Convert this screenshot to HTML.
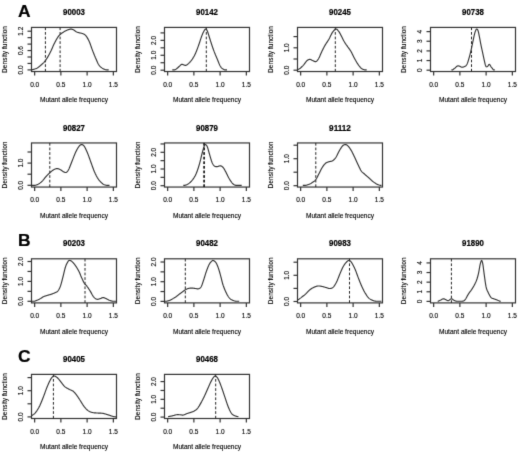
<!DOCTYPE html><html><head><meta charset="utf-8"><style>html,body{margin:0;padding:0;background:#fff;}svg{display:block;} text{stroke:#000;stroke-width:0.12px;} text.b{stroke-width:0.2px;}</style></head><body>
<svg width="520" height="453" viewBox="0 0 520 453" font-family='&quot;Liberation Sans&quot;, sans-serif'>
<defs><filter id="bl" x="0" y="0" width="520" height="453" filterUnits="userSpaceOnUse" color-interpolation-filters="sRGB"><feColorMatrix type="saturate" values="0"/><feConvolveMatrix order="3" kernelMatrix="0.0113 0.0838 0.0113 0.0838 0.6193 0.0838 0.0113 0.0838 0.0113" edgeMode="duplicate" preserveAlpha="true"/></filter></defs>
<rect width="520" height="453" fill="#fff"/>
<g filter="url(#bl)"><rect width="520" height="453" fill="#fff"/>
<text x="18.1" y="17.0" class="b" font-size="17.4" font-weight="bold" fill="#000">A</text>
<text x="18.1" y="245.9" class="b" font-size="17.4" font-weight="bold" fill="#000">B</text>
<text x="18.1" y="361.6" class="b" font-size="17.4" font-weight="bold" fill="#000">C</text>
<g><text x="74.00" y="15.03" font-size="8.3" class="b" font-weight="bold" text-anchor="middle" textLength="21.8" lengthAdjust="spacingAndGlyphs" fill="#000">90003</text><rect x="31.50" y="27.43" width="85.00" height="44.10" fill="none" stroke="#333" stroke-width="1.2"/><line x1="34.65" y1="71.53" x2="34.65" y2="75.53" stroke="#333" stroke-width="1.2"/><text x="34.65" y="86.83" font-size="6.5" text-anchor="middle" fill="#000">0.0</text><line x1="60.88" y1="71.53" x2="60.88" y2="75.53" stroke="#333" stroke-width="1.2"/><text x="60.88" y="86.83" font-size="6.5" text-anchor="middle" fill="#000">0.5</text><line x1="87.12" y1="71.53" x2="87.12" y2="75.53" stroke="#333" stroke-width="1.2"/><text x="87.12" y="86.83" font-size="6.5" text-anchor="middle" fill="#000">1.0</text><line x1="113.35" y1="71.53" x2="113.35" y2="75.53" stroke="#333" stroke-width="1.2"/><text x="113.35" y="86.83" font-size="6.5" text-anchor="middle" fill="#000">1.5</text><text x="74.00" y="102.23" font-size="6.6" text-anchor="middle" fill="#000">Mutant allele frequency</text><line x1="27.50" y1="69.90" x2="31.50" y2="69.90" stroke="#333" stroke-width="1.2"/><text transform="translate(22.80,69.90) rotate(-90)" font-size="6.5" text-anchor="middle" fill="#000">0.0</text><line x1="27.50" y1="63.45" x2="31.50" y2="63.45" stroke="#333" stroke-width="1.2"/><line x1="27.50" y1="57.00" x2="31.50" y2="57.00" stroke="#333" stroke-width="1.2"/><line x1="27.50" y1="50.55" x2="31.50" y2="50.55" stroke="#333" stroke-width="1.2"/><text transform="translate(22.80,50.55) rotate(-90)" font-size="6.5" text-anchor="middle" fill="#000">0.6</text><line x1="27.50" y1="44.10" x2="31.50" y2="44.10" stroke="#333" stroke-width="1.2"/><line x1="27.50" y1="37.65" x2="31.50" y2="37.65" stroke="#333" stroke-width="1.2"/><line x1="27.50" y1="31.20" x2="31.50" y2="31.20" stroke="#333" stroke-width="1.2"/><text transform="translate(22.80,31.20) rotate(-90)" font-size="6.5" text-anchor="middle" fill="#000">1.2</text><text transform="translate(7.00,49.48) rotate(-90)" font-size="6.6" text-anchor="middle" fill="#000">Density function</text><line x1="45.40" y1="71.53" x2="45.40" y2="27.43" stroke="#222" stroke-width="1" stroke-dasharray="2.7 1.9"/><line x1="60.10" y1="71.53" x2="60.10" y2="27.43" stroke="#222" stroke-width="1" stroke-dasharray="2.7 1.9"/><path d="M31.70,69.80 L31.95,69.73 L32.26,69.66 L32.62,69.57 L33.03,69.48 L33.47,69.37 L33.94,69.25 L34.42,69.12 L34.92,68.97 L35.41,68.81 L35.90,68.63 L36.36,68.44 L36.80,68.22 L37.22,67.98 L37.65,67.71 L38.09,67.42 L38.52,67.11 L38.95,66.79 L39.38,66.45 L39.81,66.10 L40.23,65.75 L40.64,65.40 L41.04,65.05 L41.43,64.70 L41.80,64.37 L42.16,64.05 L42.49,63.75 L42.81,63.46 L43.12,63.18 L43.42,62.90 L43.72,62.60 L44.01,62.30 L44.31,61.97 L44.61,61.61 L44.93,61.23 L45.26,60.80 L45.60,60.32 L45.96,59.80 L46.34,59.23 L46.72,58.63 L47.12,57.99 L47.52,57.33 L47.93,56.64 L48.33,55.94 L48.74,55.22 L49.14,54.50 L49.54,53.77 L49.92,53.04 L50.30,52.32 L50.67,51.59 L51.03,50.84 L51.38,50.06 L51.73,49.27 L52.08,48.48 L52.42,47.68 L52.77,46.88 L53.11,46.10 L53.45,45.32 L53.80,44.57 L54.15,43.84 L54.50,43.14 L54.85,42.46 L55.20,41.78 L55.55,41.12 L55.90,40.47 L56.25,39.83 L56.60,39.21 L56.95,38.61 L57.31,38.02 L57.67,37.46 L58.04,36.92 L58.42,36.41 L58.80,35.93 L59.19,35.47 L59.58,35.05 L59.98,34.66 L60.38,34.29 L60.78,33.95 L61.19,33.62 L61.61,33.31 L62.03,33.01 L62.46,32.72 L62.90,32.44 L63.35,32.16 L63.80,31.88 L64.27,31.60 L64.77,31.32 L65.29,31.04 L65.82,30.77 L66.36,30.51 L66.90,30.26 L67.43,30.03 L67.96,29.81 L68.46,29.62 L68.94,29.46 L69.39,29.32 L69.80,29.21 L70.17,29.13 L70.51,29.09 L70.81,29.06 L71.10,29.06 L71.36,29.09 L71.61,29.13 L71.86,29.19 L72.10,29.27 L72.35,29.36 L72.62,29.47 L72.90,29.58 L73.20,29.70 L73.52,29.85 L73.84,30.03 L74.17,30.23 L74.51,30.45 L74.85,30.69 L75.19,30.94 L75.55,31.19 L75.90,31.43 L76.27,31.67 L76.64,31.89 L77.02,32.10 L77.40,32.27 L77.80,32.42 L78.22,32.55 L78.65,32.66 L79.10,32.77 L79.55,32.86 L80.01,32.95 L80.46,33.03 L80.90,33.12 L81.33,33.21 L81.74,33.31 L82.14,33.43 L82.50,33.56 L82.84,33.69 L83.15,33.81 L83.45,33.93 L83.73,34.05 L84.00,34.17 L84.26,34.31 L84.51,34.46 L84.76,34.63 L85.01,34.83 L85.27,35.06 L85.53,35.32 L85.80,35.63 L86.08,35.97 L86.36,36.35 L86.64,36.74 L86.93,37.17 L87.21,37.62 L87.49,38.10 L87.78,38.60 L88.06,39.13 L88.35,39.68 L88.63,40.25 L88.92,40.84 L89.20,41.46 L89.48,42.11 L89.77,42.80 L90.05,43.54 L90.33,44.30 L90.62,45.09 L90.90,45.90 L91.18,46.71 L91.47,47.52 L91.75,48.33 L92.03,49.12 L92.32,49.90 L92.60,50.64 L92.88,51.37 L93.17,52.09 L93.45,52.82 L93.73,53.53 L94.02,54.24 L94.30,54.94 L94.58,55.64 L94.87,56.32 L95.15,57.00 L95.43,57.66 L95.72,58.30 L96.00,58.94 L96.28,59.56 L96.55,60.18 L96.81,60.80 L97.07,61.41 L97.33,62.00 L97.59,62.59 L97.86,63.15 L98.14,63.70 L98.43,64.23 L98.73,64.73 L99.06,65.21 L99.40,65.65 L99.77,66.07 L100.16,66.47 L100.58,66.85 L101.01,67.21 L101.45,67.54 L101.90,67.86 L102.35,68.15 L102.80,68.42 L103.25,68.67 L103.68,68.91 L104.10,69.12 L104.50,69.31 L104.89,69.47 L105.30,69.60 L105.71,69.70 L106.12,69.78 L106.53,69.84 L106.92,69.88 L107.29,69.90 L107.64,69.90 L107.97,69.90 L108.25,69.90 L108.50,69.90 L108.70,69.90" fill="none" stroke="#333" stroke-width="1.15" stroke-linejoin="round"/></g>
<g><text x="207.00" y="15.03" font-size="8.3" class="b" font-weight="bold" text-anchor="middle" textLength="21.8" lengthAdjust="spacingAndGlyphs" fill="#000">90142</text><rect x="164.50" y="27.43" width="85.00" height="44.10" fill="none" stroke="#333" stroke-width="1.2"/><line x1="167.65" y1="71.53" x2="167.65" y2="75.53" stroke="#333" stroke-width="1.2"/><text x="167.65" y="86.83" font-size="6.5" text-anchor="middle" fill="#000">0.0</text><line x1="193.88" y1="71.53" x2="193.88" y2="75.53" stroke="#333" stroke-width="1.2"/><text x="193.88" y="86.83" font-size="6.5" text-anchor="middle" fill="#000">0.5</text><line x1="220.12" y1="71.53" x2="220.12" y2="75.53" stroke="#333" stroke-width="1.2"/><text x="220.12" y="86.83" font-size="6.5" text-anchor="middle" fill="#000">1.0</text><line x1="246.35" y1="71.53" x2="246.35" y2="75.53" stroke="#333" stroke-width="1.2"/><text x="246.35" y="86.83" font-size="6.5" text-anchor="middle" fill="#000">1.5</text><text x="207.00" y="102.23" font-size="6.6" text-anchor="middle" fill="#000">Mutant allele frequency</text><line x1="160.50" y1="70.20" x2="164.50" y2="70.20" stroke="#333" stroke-width="1.2"/><text transform="translate(155.80,70.20) rotate(-90)" font-size="6.5" text-anchor="middle" fill="#000">0.0</text><line x1="160.50" y1="62.74" x2="164.50" y2="62.74" stroke="#333" stroke-width="1.2"/><line x1="160.50" y1="55.28" x2="164.50" y2="55.28" stroke="#333" stroke-width="1.2"/><text transform="translate(155.80,55.28) rotate(-90)" font-size="6.5" text-anchor="middle" fill="#000">1.0</text><line x1="160.50" y1="47.82" x2="164.50" y2="47.82" stroke="#333" stroke-width="1.2"/><line x1="160.50" y1="40.36" x2="164.50" y2="40.36" stroke="#333" stroke-width="1.2"/><text transform="translate(155.80,40.36) rotate(-90)" font-size="6.5" text-anchor="middle" fill="#000">2.0</text><line x1="160.50" y1="32.90" x2="164.50" y2="32.90" stroke="#333" stroke-width="1.2"/><text transform="translate(140.00,49.48) rotate(-90)" font-size="6.6" text-anchor="middle" fill="#000">Density function</text><line x1="206.30" y1="71.53" x2="206.30" y2="27.43" stroke="#222" stroke-width="1" stroke-dasharray="2.7 1.9"/><path d="M172.30,69.90 L172.46,69.90 L172.67,69.90 L172.91,69.90 L173.18,69.90 L173.48,69.90 L173.79,69.90 L174.11,69.90 L174.44,69.83 L174.77,69.72 L175.09,69.60 L175.41,69.46 L175.70,69.31 L175.99,69.13 L176.28,68.94 L176.57,68.72 L176.87,68.49 L177.16,68.24 L177.46,67.99 L177.75,67.74 L178.03,67.48 L178.31,67.23 L178.59,66.99 L178.85,66.76 L179.10,66.54 L179.34,66.33 L179.57,66.11 L179.80,65.89 L180.02,65.67 L180.23,65.46 L180.44,65.25 L180.64,65.06 L180.84,64.87 L181.03,64.71 L181.22,64.57 L181.41,64.45 L181.60,64.37 L181.78,64.32 L181.96,64.30 L182.13,64.30 L182.30,64.34 L182.46,64.39 L182.62,64.45 L182.78,64.52 L182.94,64.60 L183.10,64.68 L183.26,64.75 L183.43,64.81 L183.60,64.86 L183.78,64.91 L183.95,64.97 L184.13,65.04 L184.30,65.11 L184.48,65.18 L184.66,65.25 L184.84,65.30 L185.03,65.35 L185.22,65.39 L185.41,65.40 L185.60,65.39 L185.80,65.36 L186.00,65.30 L186.20,65.23 L186.40,65.14 L186.61,65.04 L186.81,64.92 L187.03,64.79 L187.24,64.64 L187.46,64.48 L187.68,64.30 L187.92,64.11 L188.15,63.90 L188.40,63.68 L188.66,63.44 L188.92,63.18 L189.19,62.91 L189.47,62.63 L189.76,62.33 L190.05,62.01 L190.34,61.68 L190.64,61.34 L190.93,60.98 L191.22,60.61 L191.51,60.22 L191.80,59.83 L192.08,59.42 L192.37,59.00 L192.65,58.57 L192.94,58.12 L193.22,57.67 L193.51,57.20 L193.79,56.71 L194.07,56.20 L194.36,55.68 L194.64,55.14 L194.92,54.58 L195.20,54.00 L195.48,53.39 L195.75,52.77 L196.03,52.12 L196.30,51.45 L196.58,50.76 L196.85,50.06 L197.12,49.34 L197.40,48.61 L197.67,47.87 L197.95,47.12 L198.22,46.36 L198.50,45.60 L198.78,44.81 L199.07,43.98 L199.36,43.11 L199.66,42.23 L199.95,41.33 L200.24,40.43 L200.53,39.54 L200.82,38.67 L201.10,37.84 L201.38,37.04 L201.64,36.30 L201.90,35.63 L202.15,35.00 L202.39,34.41 L202.63,33.84 L202.86,33.31 L203.09,32.81 L203.31,32.35 L203.52,31.91 L203.73,31.51 L203.93,31.13 L204.13,30.79 L204.32,30.48 L204.50,30.19 L204.67,29.94 L204.84,29.72 L204.99,29.54 L205.14,29.38 L205.28,29.26 L205.41,29.17 L205.54,29.10 L205.67,29.07 L205.80,29.06 L205.93,29.08 L206.06,29.13 L206.20,29.21 L206.33,29.30 L206.46,29.42 L206.58,29.56 L206.70,29.73 L206.82,29.93 L206.94,30.16 L207.07,30.42 L207.20,30.71 L207.33,31.04 L207.48,31.41 L207.63,31.82 L207.80,32.27 L207.98,32.77 L208.17,33.33 L208.36,33.93 L208.56,34.58 L208.77,35.26 L208.99,35.98 L209.21,36.72 L209.44,37.47 L209.67,38.24 L209.91,39.02 L210.15,39.79 L210.40,40.56 L210.66,41.35 L210.92,42.16 L211.19,43.00 L211.47,43.86 L211.76,44.73 L212.05,45.60 L212.34,46.48 L212.64,47.35 L212.93,48.20 L213.22,49.04 L213.51,49.86 L213.80,50.64 L214.08,51.40 L214.37,52.13 L214.65,52.85 L214.94,53.56 L215.22,54.26 L215.51,54.94 L215.79,55.62 L216.07,56.29 L216.36,56.95 L216.64,57.61 L216.92,58.27 L217.20,58.94 L217.48,59.61 L217.75,60.30 L218.03,60.99 L218.30,61.69 L218.58,62.39 L218.85,63.07 L219.12,63.74 L219.40,64.38 L219.67,64.98 L219.95,65.55 L220.22,66.07 L220.50,66.54 L220.78,66.96 L221.06,67.33 L221.35,67.66 L221.64,67.95 L221.92,68.21 L222.21,68.44 L222.50,68.65 L222.79,68.84 L223.07,69.02 L223.35,69.18 L223.63,69.35 L223.90,69.50 L224.18,69.65 L224.47,69.78 L224.77,69.89 L225.07,69.90 L225.37,69.90 L225.66,69.90 L225.94,69.90 L226.21,69.90 L226.45,69.90 L226.67,69.90 L226.85,69.90 L227.00,69.90" fill="none" stroke="#333" stroke-width="1.15" stroke-linejoin="round"/></g>
<g><text x="340.00" y="15.03" font-size="8.3" class="b" font-weight="bold" text-anchor="middle" textLength="21.8" lengthAdjust="spacingAndGlyphs" fill="#000">90245</text><rect x="297.50" y="27.43" width="85.00" height="44.10" fill="none" stroke="#333" stroke-width="1.2"/><line x1="300.65" y1="71.53" x2="300.65" y2="75.53" stroke="#333" stroke-width="1.2"/><text x="300.65" y="86.83" font-size="6.5" text-anchor="middle" fill="#000">0.0</text><line x1="326.88" y1="71.53" x2="326.88" y2="75.53" stroke="#333" stroke-width="1.2"/><text x="326.88" y="86.83" font-size="6.5" text-anchor="middle" fill="#000">0.5</text><line x1="353.12" y1="71.53" x2="353.12" y2="75.53" stroke="#333" stroke-width="1.2"/><text x="353.12" y="86.83" font-size="6.5" text-anchor="middle" fill="#000">1.0</text><line x1="379.35" y1="71.53" x2="379.35" y2="75.53" stroke="#333" stroke-width="1.2"/><text x="379.35" y="86.83" font-size="6.5" text-anchor="middle" fill="#000">1.5</text><text x="340.00" y="102.23" font-size="6.6" text-anchor="middle" fill="#000">Mutant allele frequency</text><line x1="293.50" y1="70.20" x2="297.50" y2="70.20" stroke="#333" stroke-width="1.2"/><text transform="translate(288.80,70.20) rotate(-90)" font-size="6.5" text-anchor="middle" fill="#000">0.0</text><line x1="293.50" y1="59.00" x2="297.50" y2="59.00" stroke="#333" stroke-width="1.2"/><line x1="293.50" y1="47.80" x2="297.50" y2="47.80" stroke="#333" stroke-width="1.2"/><text transform="translate(288.80,47.80) rotate(-90)" font-size="6.5" text-anchor="middle" fill="#000">1.0</text><line x1="293.50" y1="36.60" x2="297.50" y2="36.60" stroke="#333" stroke-width="1.2"/><text transform="translate(273.00,49.48) rotate(-90)" font-size="6.6" text-anchor="middle" fill="#000">Density function</text><line x1="335.30" y1="71.53" x2="335.30" y2="27.43" stroke="#222" stroke-width="1" stroke-dasharray="2.7 1.9"/><path d="M297.40,69.80 L297.53,69.73 L297.70,69.65 L297.89,69.56 L298.10,69.46 L298.34,69.35 L298.59,69.22 L298.85,69.09 L299.12,68.94 L299.39,68.78 L299.67,68.61 L299.94,68.43 L300.20,68.23 L300.46,68.02 L300.73,67.78 L301.01,67.54 L301.29,67.28 L301.57,67.01 L301.86,66.72 L302.15,66.43 L302.44,66.13 L302.74,65.83 L303.03,65.52 L303.31,65.20 L303.60,64.89 L303.88,64.56 L304.17,64.20 L304.46,63.82 L304.75,63.43 L305.04,63.04 L305.33,62.64 L305.62,62.26 L305.90,61.88 L306.19,61.53 L306.46,61.20 L306.73,60.91 L307.00,60.66 L307.26,60.44 L307.51,60.25 L307.76,60.07 L308.00,59.92 L308.24,59.79 L308.48,59.68 L308.71,59.58 L308.94,59.51 L309.18,59.45 L309.42,59.41 L309.66,59.39 L309.90,59.38 L310.15,59.40 L310.39,59.45 L310.64,59.53 L310.89,59.63 L311.14,59.75 L311.39,59.89 L311.64,60.03 L311.89,60.17 L312.14,60.31 L312.39,60.44 L312.65,60.56 L312.90,60.66 L313.16,60.76 L313.41,60.88 L313.67,61.01 L313.94,61.14 L314.20,61.27 L314.46,61.39 L314.72,61.50 L314.99,61.58 L315.24,61.63 L315.50,61.65 L315.75,61.62 L316.00,61.54 L316.24,61.42 L316.49,61.26 L316.73,61.06 L316.96,60.83 L317.20,60.58 L317.43,60.29 L317.66,59.98 L317.89,59.66 L318.12,59.31 L318.35,58.95 L318.57,58.58 L318.80,58.20 L319.02,57.81 L319.24,57.39 L319.45,56.95 L319.65,56.48 L319.86,56.01 L320.06,55.51 L320.27,55.01 L320.48,54.49 L320.70,53.97 L320.92,53.45 L321.16,52.93 L321.40,52.40 L321.65,51.88 L321.91,51.34 L322.17,50.79 L322.44,50.24 L322.72,49.68 L323.00,49.12 L323.29,48.55 L323.58,47.98 L323.88,47.41 L324.18,46.84 L324.49,46.28 L324.80,45.72 L325.12,45.16 L325.46,44.60 L325.81,44.05 L326.17,43.49 L326.53,42.93 L326.90,42.37 L327.27,41.81 L327.63,41.26 L327.99,40.70 L328.34,40.14 L328.68,39.59 L329.00,39.04 L329.31,38.47 L329.61,37.89 L329.91,37.31 L330.19,36.71 L330.47,36.12 L330.75,35.53 L331.02,34.96 L331.30,34.40 L331.57,33.87 L331.84,33.36 L332.12,32.88 L332.40,32.45 L332.69,32.04 L332.98,31.65 L333.27,31.27 L333.57,30.91 L333.86,30.57 L334.16,30.26 L334.45,29.98 L334.73,29.73 L335.01,29.51 L335.29,29.34 L335.55,29.20 L335.80,29.11 L336.04,29.06 L336.27,29.07 L336.49,29.12 L336.70,29.20 L336.91,29.32 L337.11,29.48 L337.30,29.65 L337.50,29.85 L337.70,30.07 L337.89,30.30 L338.09,30.54 L338.30,30.78 L338.51,31.03 L338.71,31.29 L338.90,31.58 L339.10,31.88 L339.30,32.19 L339.49,32.53 L339.69,32.88 L339.90,33.25 L340.11,33.64 L340.33,34.04 L340.56,34.47 L340.80,34.91 L341.05,35.38 L341.31,35.89 L341.59,36.44 L341.87,37.01 L342.15,37.60 L342.44,38.19 L342.74,38.79 L343.03,39.39 L343.33,39.98 L343.62,40.54 L343.91,41.08 L344.20,41.59 L344.48,42.07 L344.77,42.52 L345.05,42.96 L345.33,43.39 L345.62,43.80 L345.90,44.21 L346.18,44.61 L346.47,45.00 L346.75,45.40 L347.03,45.79 L347.32,46.19 L347.60,46.60 L347.88,47.01 L348.17,47.41 L348.45,47.80 L348.73,48.18 L349.02,48.57 L349.30,48.96 L349.58,49.35 L349.87,49.75 L350.15,50.17 L350.43,50.60 L350.72,51.05 L351.00,51.52 L351.28,52.02 L351.57,52.54 L351.85,53.09 L352.13,53.65 L352.42,54.22 L352.70,54.81 L352.98,55.39 L353.27,55.97 L353.55,56.55 L353.83,57.12 L354.12,57.67 L354.40,58.20 L354.68,58.72 L354.97,59.24 L355.25,59.75 L355.53,60.26 L355.82,60.76 L356.10,61.26 L356.38,61.74 L356.67,62.22 L356.95,62.68 L357.23,63.14 L357.52,63.58 L357.80,64.00 L358.08,64.42 L358.37,64.83 L358.65,65.23 L358.94,65.63 L359.22,66.01 L359.51,66.38 L359.79,66.74 L360.07,67.07 L360.36,67.40 L360.64,67.70 L360.92,67.97 L361.20,68.23 L361.48,68.46 L361.77,68.66 L362.06,68.83 L362.35,68.99 L362.64,69.12 L362.93,69.24 L363.21,69.35 L363.49,69.45 L363.75,69.54 L364.01,69.63 L364.26,69.71 L364.50,69.80 L364.73,69.89 L364.96,69.90 L365.18,69.90 L365.40,69.90 L365.61,69.90 L365.81,69.90 L365.99,69.90 L366.17,69.90 L366.33,69.90 L366.47,69.90 L366.60,69.90 L366.70,69.90" fill="none" stroke="#333" stroke-width="1.15" stroke-linejoin="round"/></g>
<g><text x="473.00" y="15.03" font-size="8.3" class="b" font-weight="bold" text-anchor="middle" textLength="21.8" lengthAdjust="spacingAndGlyphs" fill="#000">90738</text><rect x="430.50" y="27.43" width="85.00" height="44.10" fill="none" stroke="#333" stroke-width="1.2"/><line x1="433.65" y1="71.53" x2="433.65" y2="75.53" stroke="#333" stroke-width="1.2"/><text x="433.65" y="86.83" font-size="6.5" text-anchor="middle" fill="#000">0.0</text><line x1="459.88" y1="71.53" x2="459.88" y2="75.53" stroke="#333" stroke-width="1.2"/><text x="459.88" y="86.83" font-size="6.5" text-anchor="middle" fill="#000">0.5</text><line x1="486.12" y1="71.53" x2="486.12" y2="75.53" stroke="#333" stroke-width="1.2"/><text x="486.12" y="86.83" font-size="6.5" text-anchor="middle" fill="#000">1.0</text><line x1="512.35" y1="71.53" x2="512.35" y2="75.53" stroke="#333" stroke-width="1.2"/><text x="512.35" y="86.83" font-size="6.5" text-anchor="middle" fill="#000">1.5</text><text x="473.00" y="102.23" font-size="6.6" text-anchor="middle" fill="#000">Mutant allele frequency</text><line x1="426.50" y1="70.20" x2="430.50" y2="70.20" stroke="#333" stroke-width="1.2"/><text transform="translate(421.80,70.20) rotate(-90)" font-size="6.5" text-anchor="middle" fill="#000">0</text><line x1="426.50" y1="60.55" x2="430.50" y2="60.55" stroke="#333" stroke-width="1.2"/><text transform="translate(421.80,60.55) rotate(-90)" font-size="6.5" text-anchor="middle" fill="#000">1</text><line x1="426.50" y1="50.90" x2="430.50" y2="50.90" stroke="#333" stroke-width="1.2"/><text transform="translate(421.80,50.90) rotate(-90)" font-size="6.5" text-anchor="middle" fill="#000">2</text><line x1="426.50" y1="41.25" x2="430.50" y2="41.25" stroke="#333" stroke-width="1.2"/><text transform="translate(421.80,41.25) rotate(-90)" font-size="6.5" text-anchor="middle" fill="#000">3</text><line x1="426.50" y1="31.60" x2="430.50" y2="31.60" stroke="#333" stroke-width="1.2"/><text transform="translate(421.80,31.60) rotate(-90)" font-size="6.5" text-anchor="middle" fill="#000">4</text><text transform="translate(406.00,49.48) rotate(-90)" font-size="6.6" text-anchor="middle" fill="#000">Density function</text><line x1="471.50" y1="71.53" x2="471.50" y2="27.43" stroke="#222" stroke-width="1" stroke-dasharray="2.7 1.9"/><path d="M451.40,69.90 L451.55,69.90 L451.74,69.90 L451.97,69.90 L452.22,69.90 L452.49,69.90 L452.78,69.74 L453.08,69.52 L453.38,69.28 L453.68,69.05 L453.97,68.82 L454.25,68.61 L454.50,68.40 L454.74,68.20 L454.98,67.99 L455.22,67.77 L455.45,67.54 L455.68,67.32 L455.91,67.10 L456.14,66.90 L456.36,66.70 L456.58,66.52 L456.79,66.36 L457.00,66.22 L457.20,66.11 L457.39,66.02 L457.58,65.96 L457.76,65.92 L457.93,65.90 L458.09,65.89 L458.26,65.89 L458.42,65.91 L458.59,65.94 L458.75,65.98 L458.93,66.02 L459.11,66.06 L459.30,66.11 L459.50,66.17 L459.70,66.25 L459.91,66.35 L460.13,66.46 L460.34,66.58 L460.56,66.70 L460.78,66.82 L461.01,66.93 L461.23,67.03 L461.46,67.11 L461.68,67.17 L461.90,67.20 L462.12,67.21 L462.35,67.21 L462.58,67.18 L462.81,67.15 L463.05,67.10 L463.28,67.04 L463.51,66.97 L463.74,66.89 L463.96,66.80 L464.18,66.71 L464.40,66.61 L464.60,66.51 L464.80,66.41 L464.98,66.32 L465.17,66.23 L465.34,66.14 L465.52,66.04 L465.69,65.93 L465.86,65.80 L466.02,65.64 L466.19,65.46 L466.36,65.25 L466.53,65.00 L466.70,64.71 L466.87,64.38 L467.05,64.01 L467.22,63.61 L467.40,63.17 L467.57,62.72 L467.74,62.23 L467.92,61.73 L468.09,61.20 L468.27,60.65 L468.44,60.09 L468.62,59.51 L468.80,58.92 L468.98,58.31 L469.17,57.66 L469.35,56.99 L469.54,56.29 L469.73,55.57 L469.92,54.84 L470.11,54.10 L470.29,53.36 L470.48,52.61 L470.66,51.87 L470.83,51.15 L471.00,50.43 L471.16,49.73 L471.33,49.02 L471.48,48.31 L471.64,47.60 L471.79,46.89 L471.94,46.18 L472.08,45.47 L472.23,44.77 L472.37,44.08 L472.52,43.39 L472.66,42.72 L472.80,42.05 L472.94,41.38 L473.08,40.71 L473.22,40.04 L473.36,39.37 L473.50,38.70 L473.63,38.04 L473.76,37.40 L473.90,36.78 L474.03,36.18 L474.15,35.61 L474.28,35.07 L474.40,34.56 L474.52,34.09 L474.64,33.64 L474.75,33.22 L474.86,32.81 L474.97,32.44 L475.08,32.08 L475.19,31.75 L475.29,31.43 L475.40,31.14 L475.50,30.86 L475.60,30.61 L475.70,30.37 L475.80,30.15 L475.89,29.95 L475.98,29.77 L476.07,29.61 L476.16,29.47 L476.25,29.35 L476.34,29.25 L476.43,29.17 L476.52,29.11 L476.61,29.08 L476.70,29.06 L476.80,29.07 L476.90,29.10 L477.01,29.15 L477.11,29.21 L477.22,29.29 L477.33,29.39 L477.44,29.52 L477.55,29.67 L477.66,29.85 L477.77,30.06 L477.88,30.30 L477.99,30.57 L478.10,30.87 L478.21,31.21 L478.31,31.59 L478.42,32.00 L478.52,32.44 L478.63,32.91 L478.73,33.40 L478.84,33.92 L478.94,34.46 L479.05,35.02 L479.17,35.59 L479.28,36.17 L479.40,36.76 L479.52,37.37 L479.65,38.02 L479.78,38.70 L479.91,39.41 L480.05,40.13 L480.18,40.86 L480.32,41.59 L480.46,42.33 L480.59,43.06 L480.73,43.78 L480.87,44.47 L481.00,45.14 L481.13,45.79 L481.27,46.43 L481.40,47.06 L481.53,47.68 L481.67,48.29 L481.80,48.89 L481.93,49.50 L482.07,50.10 L482.20,50.70 L482.33,51.31 L482.47,51.92 L482.60,52.53 L482.73,53.16 L482.87,53.79 L483.00,54.43 L483.13,55.07 L483.27,55.71 L483.40,56.36 L483.53,56.99 L483.67,57.62 L483.80,58.24 L483.93,58.85 L484.07,59.44 L484.20,60.02 L484.33,60.59 L484.47,61.18 L484.60,61.77 L484.73,62.36 L484.87,62.94 L485.00,63.51 L485.13,64.04 L485.27,64.55 L485.40,65.02 L485.53,65.44 L485.67,65.80 L485.80,66.11 L485.93,66.35 L486.06,66.53 L486.19,66.67 L486.32,66.75 L486.45,66.80 L486.58,66.82 L486.71,66.80 L486.84,66.77 L486.98,66.72 L487.12,66.65 L487.26,66.58 L487.40,66.51 L487.55,66.40 L487.70,66.25 L487.86,66.05 L488.01,65.83 L488.18,65.58 L488.34,65.33 L488.50,65.09 L488.66,64.87 L488.83,64.68 L488.99,64.53 L489.14,64.44 L489.30,64.41 L489.45,64.45 L489.60,64.55 L489.75,64.69 L489.90,64.86 L490.04,65.07 L490.19,65.31 L490.33,65.56 L490.48,65.82 L490.63,66.08 L490.78,66.34 L490.94,66.58 L491.10,66.81 L491.27,67.02 L491.44,67.25 L491.62,67.49 L491.80,67.73 L491.98,67.98 L492.16,68.22 L492.35,68.46 L492.53,68.69 L492.70,68.92 L492.88,69.13 L493.04,69.32 L493.20,69.50 L493.36,69.66 L493.51,69.81 L493.67,69.90 L493.83,69.90 L493.98,69.90 L494.13,69.90 L494.27,69.90 L494.40,69.90 L494.52,69.90 L494.63,69.90 L494.72,69.90 L494.80,69.90" fill="none" stroke="#333" stroke-width="1.15" stroke-linejoin="round"/></g>
<g><text x="74.00" y="130.55" font-size="8.3" class="b" font-weight="bold" text-anchor="middle" textLength="21.8" lengthAdjust="spacingAndGlyphs" fill="#000">90827</text><rect x="31.50" y="142.95" width="85.00" height="44.10" fill="none" stroke="#333" stroke-width="1.2"/><line x1="34.65" y1="187.05" x2="34.65" y2="191.05" stroke="#333" stroke-width="1.2"/><text x="34.65" y="202.35" font-size="6.5" text-anchor="middle" fill="#000">0.0</text><line x1="60.88" y1="187.05" x2="60.88" y2="191.05" stroke="#333" stroke-width="1.2"/><text x="60.88" y="202.35" font-size="6.5" text-anchor="middle" fill="#000">0.5</text><line x1="87.12" y1="187.05" x2="87.12" y2="191.05" stroke="#333" stroke-width="1.2"/><text x="87.12" y="202.35" font-size="6.5" text-anchor="middle" fill="#000">1.0</text><line x1="113.35" y1="187.05" x2="113.35" y2="191.05" stroke="#333" stroke-width="1.2"/><text x="113.35" y="202.35" font-size="6.5" text-anchor="middle" fill="#000">1.5</text><text x="74.00" y="217.75" font-size="6.6" text-anchor="middle" fill="#000">Mutant allele frequency</text><line x1="27.50" y1="185.30" x2="31.50" y2="185.30" stroke="#333" stroke-width="1.2"/><text transform="translate(22.80,185.30) rotate(-90)" font-size="6.5" text-anchor="middle" fill="#000">0.0</text><line x1="27.50" y1="174.20" x2="31.50" y2="174.20" stroke="#333" stroke-width="1.2"/><line x1="27.50" y1="163.10" x2="31.50" y2="163.10" stroke="#333" stroke-width="1.2"/><text transform="translate(22.80,163.10) rotate(-90)" font-size="6.5" text-anchor="middle" fill="#000">1.0</text><line x1="27.50" y1="152.00" x2="31.50" y2="152.00" stroke="#333" stroke-width="1.2"/><text transform="translate(7.00,165.00) rotate(-90)" font-size="6.6" text-anchor="middle" fill="#000">Density function</text><line x1="49.80" y1="187.05" x2="49.80" y2="142.95" stroke="#222" stroke-width="1" stroke-dasharray="2.7 1.9"/><path d="M31.70,185.42 L31.95,185.42 L32.26,185.42 L32.62,185.42 L33.03,185.42 L33.47,185.42 L33.94,185.42 L34.42,185.39 L34.92,185.31 L35.41,185.22 L35.90,185.10 L36.36,184.97 L36.80,184.81 L37.22,184.62 L37.65,184.42 L38.07,184.20 L38.50,183.96 L38.93,183.70 L39.35,183.43 L39.77,183.15 L40.19,182.85 L40.60,182.53 L41.01,182.21 L41.41,181.88 L41.80,181.54 L42.18,181.17 L42.56,180.79 L42.93,180.38 L43.29,179.95 L43.65,179.51 L44.00,179.07 L44.35,178.62 L44.70,178.17 L45.05,177.73 L45.40,177.29 L45.75,176.88 L46.10,176.48 L46.46,176.10 L46.82,175.72 L47.18,175.34 L47.54,174.97 L47.90,174.61 L48.26,174.25 L48.61,173.90 L48.96,173.56 L49.31,173.23 L49.65,172.91 L49.98,172.61 L50.30,172.32 L50.61,172.05 L50.91,171.79 L51.21,171.54 L51.49,171.30 L51.77,171.07 L52.05,170.85 L52.32,170.64 L52.60,170.44 L52.87,170.26 L53.14,170.08 L53.42,169.91 L53.70,169.75 L53.98,169.59 L54.27,169.44 L54.55,169.30 L54.83,169.16 L55.12,169.03 L55.40,168.92 L55.68,168.81 L55.97,168.73 L56.25,168.66 L56.53,168.60 L56.82,168.57 L57.10,168.56 L57.38,168.57 L57.67,168.61 L57.95,168.67 L58.24,168.74 L58.52,168.83 L58.81,168.94 L59.09,169.06 L59.37,169.19 L59.66,169.32 L59.94,169.46 L60.22,169.61 L60.50,169.75 L60.78,169.90 L61.06,170.07 L61.35,170.26 L61.63,170.47 L61.92,170.68 L62.20,170.89 L62.48,171.09 L62.76,171.30 L63.03,171.48 L63.29,171.66 L63.55,171.80 L63.80,171.93 L64.04,172.03 L64.28,172.14 L64.50,172.24 L64.72,172.33 L64.94,172.41 L65.15,172.47 L65.36,172.51 L65.57,172.54 L65.77,172.53 L65.98,172.50 L66.19,172.43 L66.40,172.32 L66.61,172.19 L66.81,172.04 L67.01,171.86 L67.21,171.67 L67.40,171.44 L67.60,171.19 L67.80,170.91 L68.00,170.59 L68.21,170.24 L68.43,169.85 L68.66,169.42 L68.90,168.95 L69.15,168.43 L69.41,167.84 L69.69,167.20 L69.97,166.52 L70.25,165.80 L70.54,165.06 L70.84,164.30 L71.13,163.53 L71.43,162.76 L71.72,162.00 L72.01,161.25 L72.30,160.53 L72.58,159.82 L72.87,159.10 L73.15,158.37 L73.43,157.63 L73.72,156.89 L74.00,156.16 L74.28,155.44 L74.57,154.73 L74.85,154.04 L75.13,153.37 L75.42,152.72 L75.70,152.11 L75.99,151.52 L76.28,150.94 L76.57,150.37 L76.87,149.82 L77.16,149.28 L77.46,148.77 L77.75,148.28 L78.03,147.81 L78.31,147.38 L78.59,146.97 L78.85,146.60 L79.10,146.27 L79.34,145.97 L79.57,145.71 L79.79,145.47 L80.00,145.27 L80.20,145.10 L80.40,144.95 L80.60,144.84 L80.79,144.74 L80.99,144.67 L81.19,144.62 L81.39,144.59 L81.60,144.58 L81.81,144.59 L82.02,144.61 L82.23,144.65 L82.43,144.71 L82.64,144.79 L82.85,144.90 L83.06,145.04 L83.28,145.21 L83.50,145.41 L83.72,145.66 L83.96,145.94 L84.20,146.27 L84.45,146.64 L84.71,147.07 L84.97,147.54 L85.24,148.05 L85.52,148.59 L85.80,149.17 L86.08,149.77 L86.37,150.39 L86.65,151.03 L86.94,151.68 L87.22,152.34 L87.50,153.00 L87.78,153.69 L88.06,154.40 L88.34,155.13 L88.63,155.89 L88.91,156.67 L89.19,157.46 L89.48,158.25 L89.76,159.05 L90.05,159.86 L90.33,160.65 L90.62,161.44 L90.90,162.22 L91.18,162.99 L91.47,163.78 L91.75,164.58 L92.03,165.38 L92.32,166.18 L92.60,166.98 L92.88,167.77 L93.17,168.54 L93.45,169.30 L93.73,170.04 L94.02,170.75 L94.30,171.43 L94.58,172.09 L94.87,172.73 L95.15,173.35 L95.43,173.96 L95.72,174.54 L96.00,175.12 L96.28,175.67 L96.57,176.20 L96.85,176.72 L97.13,177.22 L97.42,177.70 L97.70,178.17 L97.98,178.61 L98.27,179.03 L98.55,179.43 L98.83,179.81 L99.12,180.17 L99.40,180.51 L99.68,180.85 L99.97,181.16 L100.25,181.47 L100.53,181.76 L100.82,182.05 L101.10,182.33 L101.38,182.60 L101.65,182.86 L101.91,183.10 L102.17,183.34 L102.44,183.56 L102.70,183.77 L102.97,183.97 L103.25,184.16 L103.54,184.34 L103.84,184.50 L104.16,184.66 L104.50,184.81 L104.88,184.94 L105.30,185.06 L105.75,185.16 L106.23,185.25 L106.72,185.33 L107.21,185.41 L107.69,185.42 L108.14,185.42 L108.56,185.42 L108.94,185.42 L109.25,185.42 L109.50,185.42" fill="none" stroke="#333" stroke-width="1.15" stroke-linejoin="round"/></g>
<g><text x="207.00" y="130.55" font-size="8.3" class="b" font-weight="bold" text-anchor="middle" textLength="21.8" lengthAdjust="spacingAndGlyphs" fill="#000">90879</text><rect x="164.50" y="142.95" width="85.00" height="44.10" fill="none" stroke="#333" stroke-width="1.2"/><line x1="167.65" y1="187.05" x2="167.65" y2="191.05" stroke="#333" stroke-width="1.2"/><text x="167.65" y="202.35" font-size="6.5" text-anchor="middle" fill="#000">0.0</text><line x1="193.88" y1="187.05" x2="193.88" y2="191.05" stroke="#333" stroke-width="1.2"/><text x="193.88" y="202.35" font-size="6.5" text-anchor="middle" fill="#000">0.5</text><line x1="220.12" y1="187.05" x2="220.12" y2="191.05" stroke="#333" stroke-width="1.2"/><text x="220.12" y="202.35" font-size="6.5" text-anchor="middle" fill="#000">1.0</text><line x1="246.35" y1="187.05" x2="246.35" y2="191.05" stroke="#333" stroke-width="1.2"/><text x="246.35" y="202.35" font-size="6.5" text-anchor="middle" fill="#000">1.5</text><text x="207.00" y="217.75" font-size="6.6" text-anchor="middle" fill="#000">Mutant allele frequency</text><line x1="160.50" y1="185.70" x2="164.50" y2="185.70" stroke="#333" stroke-width="1.2"/><text transform="translate(155.80,185.70) rotate(-90)" font-size="6.5" text-anchor="middle" fill="#000">0.0</text><line x1="160.50" y1="177.35" x2="164.50" y2="177.35" stroke="#333" stroke-width="1.2"/><line x1="160.50" y1="169.00" x2="164.50" y2="169.00" stroke="#333" stroke-width="1.2"/><text transform="translate(155.80,169.00) rotate(-90)" font-size="6.5" text-anchor="middle" fill="#000">1.0</text><line x1="160.50" y1="160.65" x2="164.50" y2="160.65" stroke="#333" stroke-width="1.2"/><line x1="160.50" y1="152.30" x2="164.50" y2="152.30" stroke="#333" stroke-width="1.2"/><text transform="translate(155.80,152.30) rotate(-90)" font-size="6.5" text-anchor="middle" fill="#000">2.0</text><line x1="160.50" y1="143.95" x2="164.50" y2="143.95" stroke="#333" stroke-width="1.2"/><text transform="translate(140.00,165.00) rotate(-90)" font-size="6.6" text-anchor="middle" fill="#000">Density function</text><line x1="203.70" y1="187.05" x2="203.70" y2="142.95" stroke="#222" stroke-width="1" stroke-dasharray="2.7 1.9"/><line x1="204.50" y1="187.05" x2="204.50" y2="142.95" stroke="#222" stroke-width="1" stroke-dasharray="2.7 1.9"/><path d="M183.30,185.42 L183.50,185.42 L183.76,185.42 L184.05,185.42 L184.39,185.42 L184.75,185.33 L185.13,185.24 L185.53,185.12 L185.94,185.00 L186.34,184.86 L186.75,184.70 L187.13,184.52 L187.50,184.32 L187.86,184.11 L188.21,183.89 L188.57,183.65 L188.93,183.40 L189.29,183.13 L189.65,182.84 L190.01,182.54 L190.37,182.22 L190.73,181.87 L191.09,181.51 L191.44,181.12 L191.80,180.70 L192.16,180.26 L192.52,179.81 L192.88,179.33 L193.24,178.83 L193.60,178.31 L193.96,177.77 L194.31,177.20 L194.66,176.62 L195.01,176.01 L195.35,175.38 L195.68,174.72 L196.00,174.05 L196.31,173.34 L196.62,172.59 L196.93,171.80 L197.23,170.99 L197.52,170.16 L197.81,169.31 L198.09,168.45 L198.36,167.58 L198.63,166.71 L198.89,165.85 L199.15,165.00 L199.40,164.16 L199.64,163.32 L199.87,162.47 L200.10,161.61 L200.31,160.74 L200.53,159.88 L200.73,159.01 L200.93,158.16 L201.13,157.32 L201.32,156.50 L201.52,155.69 L201.71,154.92 L201.90,154.18 L202.09,153.45 L202.28,152.73 L202.47,152.01 L202.66,151.31 L202.84,150.63 L203.02,149.97 L203.20,149.33 L203.37,148.73 L203.54,148.17 L203.70,147.64 L203.85,147.16 L204.00,146.74 L204.13,146.36 L204.25,146.02 L204.36,145.73 L204.47,145.47 L204.56,145.25 L204.66,145.06 L204.75,144.91 L204.84,144.79 L204.94,144.69 L205.05,144.63 L205.17,144.60 L205.30,144.58 L205.44,144.60 L205.59,144.63 L205.75,144.69 L205.91,144.79 L206.07,144.91 L206.24,145.06 L206.42,145.25 L206.59,145.47 L206.77,145.73 L206.95,146.02 L207.12,146.36 L207.30,146.74 L207.48,147.17 L207.65,147.66 L207.83,148.20 L208.00,148.79 L208.18,149.42 L208.36,150.07 L208.54,150.75 L208.73,151.44 L208.92,152.13 L209.11,152.82 L209.30,153.51 L209.50,154.18 L209.70,154.85 L209.91,155.57 L210.12,156.30 L210.34,157.06 L210.56,157.82 L210.78,158.57 L211.00,159.32 L211.23,160.04 L211.45,160.73 L211.67,161.37 L211.89,161.96 L212.10,162.50 L212.31,162.97 L212.52,163.41 L212.73,163.81 L212.94,164.17 L213.14,164.50 L213.35,164.80 L213.56,165.07 L213.76,165.32 L213.97,165.54 L214.18,165.75 L214.39,165.94 L214.60,166.12 L214.81,166.27 L215.02,166.40 L215.23,166.49 L215.43,166.56 L215.64,166.61 L215.85,166.64 L216.06,166.65 L216.28,166.65 L216.50,166.65 L216.72,166.64 L216.96,166.62 L217.20,166.61 L217.45,166.58 L217.72,166.52 L217.99,166.44 L218.27,166.35 L218.56,166.25 L218.85,166.14 L219.14,166.04 L219.43,165.95 L219.71,165.88 L219.98,165.83 L220.25,165.81 L220.50,165.82 L220.74,165.87 L220.98,165.93 L221.20,166.01 L221.42,166.11 L221.64,166.22 L221.85,166.35 L222.06,166.50 L222.27,166.66 L222.47,166.84 L222.68,167.04 L222.89,167.26 L223.10,167.49 L223.31,167.74 L223.51,168.00 L223.71,168.28 L223.91,168.58 L224.10,168.90 L224.30,169.23 L224.50,169.58 L224.70,169.95 L224.91,170.33 L225.13,170.74 L225.36,171.16 L225.60,171.60 L225.85,172.07 L226.11,172.58 L226.39,173.12 L226.67,173.69 L226.95,174.28 L227.24,174.87 L227.54,175.47 L227.83,176.07 L228.13,176.65 L228.42,177.21 L228.71,177.75 L229.00,178.25 L229.28,178.74 L229.57,179.22 L229.85,179.69 L230.13,180.15 L230.42,180.60 L230.70,181.03 L230.98,181.45 L231.27,181.85 L231.55,182.24 L231.83,182.60 L232.12,182.94 L232.40,183.25 L232.68,183.53 L232.94,183.79 L233.19,184.02 L233.44,184.23 L233.69,184.42 L233.94,184.60 L234.21,184.76 L234.48,184.90 L234.77,185.04 L235.09,185.16 L235.43,185.28 L235.80,185.40 L236.22,185.42 L236.71,185.42 L237.24,185.42 L237.80,185.42 L238.38,185.42 L238.96,185.42 L239.53,185.42 L240.08,185.42 L240.58,185.42 L241.03,185.42 L241.41,185.42 L241.70,185.42" fill="none" stroke="#333" stroke-width="1.15" stroke-linejoin="round"/></g>
<g><text x="340.00" y="130.55" font-size="8.3" class="b" font-weight="bold" text-anchor="middle" textLength="21.8" lengthAdjust="spacingAndGlyphs" fill="#000">91112</text><rect x="297.50" y="142.95" width="85.00" height="44.10" fill="none" stroke="#333" stroke-width="1.2"/><line x1="300.65" y1="187.05" x2="300.65" y2="191.05" stroke="#333" stroke-width="1.2"/><text x="300.65" y="202.35" font-size="6.5" text-anchor="middle" fill="#000">0.0</text><line x1="326.88" y1="187.05" x2="326.88" y2="191.05" stroke="#333" stroke-width="1.2"/><text x="326.88" y="202.35" font-size="6.5" text-anchor="middle" fill="#000">0.5</text><line x1="353.12" y1="187.05" x2="353.12" y2="191.05" stroke="#333" stroke-width="1.2"/><text x="353.12" y="202.35" font-size="6.5" text-anchor="middle" fill="#000">1.0</text><line x1="379.35" y1="187.05" x2="379.35" y2="191.05" stroke="#333" stroke-width="1.2"/><text x="379.35" y="202.35" font-size="6.5" text-anchor="middle" fill="#000">1.5</text><text x="340.00" y="217.75" font-size="6.6" text-anchor="middle" fill="#000">Mutant allele frequency</text><line x1="293.50" y1="185.70" x2="297.50" y2="185.70" stroke="#333" stroke-width="1.2"/><text transform="translate(288.80,185.70) rotate(-90)" font-size="6.5" text-anchor="middle" fill="#000">0.0</text><line x1="293.50" y1="172.20" x2="297.50" y2="172.20" stroke="#333" stroke-width="1.2"/><line x1="293.50" y1="158.70" x2="297.50" y2="158.70" stroke="#333" stroke-width="1.2"/><text transform="translate(288.80,158.70) rotate(-90)" font-size="6.5" text-anchor="middle" fill="#000">1.0</text><line x1="293.50" y1="145.20" x2="297.50" y2="145.20" stroke="#333" stroke-width="1.2"/><text transform="translate(273.00,165.00) rotate(-90)" font-size="6.6" text-anchor="middle" fill="#000">Density function</text><line x1="315.80" y1="187.05" x2="315.80" y2="142.95" stroke="#222" stroke-width="1" stroke-dasharray="2.7 1.9"/><path d="M302.80,185.42 L303.00,185.42 L303.26,185.42 L303.55,185.42 L303.89,185.42 L304.25,185.42 L304.64,185.42 L305.04,185.41 L305.44,185.34 L305.85,185.27 L306.25,185.19 L306.64,185.11 L307.00,185.01 L307.35,184.90 L307.70,184.80 L308.05,184.68 L308.40,184.56 L308.74,184.43 L309.09,184.29 L309.44,184.15 L309.79,183.99 L310.14,183.82 L310.49,183.64 L310.85,183.45 L311.20,183.25 L311.56,183.03 L311.92,182.81 L312.29,182.59 L312.66,182.35 L313.04,182.10 L313.41,181.84 L313.77,181.57 L314.14,181.28 L314.49,180.97 L314.84,180.64 L315.18,180.29 L315.50,179.92 L315.81,179.52 L316.11,179.10 L316.39,178.65 L316.67,178.18 L316.94,177.69 L317.21,177.19 L317.47,176.67 L317.73,176.15 L317.99,175.63 L318.26,175.10 L318.52,174.57 L318.80,174.05 L319.08,173.52 L319.36,172.97 L319.64,172.40 L319.93,171.83 L320.21,171.25 L320.49,170.67 L320.78,170.09 L321.06,169.53 L321.35,168.98 L321.63,168.46 L321.92,167.96 L322.20,167.49 L322.48,167.05 L322.77,166.63 L323.05,166.21 L323.33,165.82 L323.62,165.44 L323.90,165.08 L324.18,164.73 L324.47,164.41 L324.75,164.10 L325.03,163.81 L325.32,163.54 L325.60,163.29 L325.88,163.06 L326.17,162.86 L326.45,162.69 L326.73,162.54 L327.02,162.41 L327.30,162.30 L327.58,162.19 L327.87,162.09 L328.15,162.00 L328.43,161.91 L328.72,161.82 L329.00,161.72 L329.28,161.63 L329.57,161.56 L329.85,161.51 L330.13,161.47 L330.42,161.43 L330.70,161.39 L330.98,161.35 L331.27,161.29 L331.55,161.22 L331.83,161.12 L332.12,161.00 L332.40,160.84 L332.68,160.66 L332.97,160.46 L333.25,160.26 L333.53,160.03 L333.82,159.79 L334.10,159.53 L334.38,159.25 L334.67,158.95 L334.95,158.63 L335.23,158.28 L335.52,157.91 L335.80,157.51 L336.08,157.07 L336.37,156.59 L336.65,156.06 L336.94,155.51 L337.22,154.93 L337.51,154.34 L337.79,153.74 L338.07,153.15 L338.36,152.56 L338.64,152.00 L338.92,151.46 L339.20,150.96 L339.48,150.47 L339.76,149.99 L340.05,149.51 L340.33,149.04 L340.62,148.58 L340.90,148.14 L341.18,147.71 L341.46,147.30 L341.73,146.92 L341.99,146.57 L342.25,146.25 L342.50,145.97 L342.74,145.72 L342.98,145.50 L343.20,145.31 L343.42,145.16 L343.64,145.02 L343.85,144.91 L344.06,144.82 L344.27,144.75 L344.47,144.69 L344.68,144.65 L344.89,144.62 L345.10,144.60 L345.31,144.59 L345.51,144.58 L345.71,144.59 L345.91,144.62 L346.10,144.66 L346.30,144.72 L346.50,144.80 L346.70,144.90 L346.91,145.03 L347.13,145.18 L347.36,145.36 L347.60,145.58 L347.85,145.82 L348.11,146.10 L348.39,146.40 L348.67,146.74 L348.95,147.09 L349.24,147.47 L349.54,147.87 L349.83,148.29 L350.13,148.72 L350.42,149.16 L350.71,149.61 L351.00,150.08 L351.28,150.55 L351.57,151.05 L351.85,151.57 L352.13,152.11 L352.42,152.66 L352.70,153.22 L352.98,153.79 L353.27,154.37 L353.55,154.96 L353.83,155.55 L354.12,156.14 L354.40,156.73 L354.68,157.33 L354.97,157.93 L355.25,158.55 L355.53,159.18 L355.82,159.81 L356.10,160.45 L356.38,161.08 L356.67,161.72 L356.95,162.34 L357.23,162.96 L357.52,163.57 L357.80,164.17 L358.08,164.76 L358.37,165.36 L358.65,165.97 L358.94,166.57 L359.22,167.17 L359.51,167.76 L359.79,168.33 L360.07,168.89 L360.36,169.42 L360.64,169.92 L360.92,170.39 L361.20,170.82 L361.48,171.21 L361.74,171.55 L362.01,171.86 L362.27,172.13 L362.53,172.38 L362.79,172.62 L363.06,172.84 L363.33,173.06 L363.61,173.29 L363.89,173.52 L364.19,173.77 L364.50,174.05 L364.82,174.34 L365.16,174.64 L365.51,174.94 L365.86,175.25 L366.23,175.56 L366.59,175.87 L366.96,176.19 L367.34,176.50 L367.71,176.82 L368.08,177.14 L368.44,177.45 L368.80,177.77 L369.15,178.09 L369.51,178.41 L369.86,178.74 L370.21,179.07 L370.56,179.41 L370.91,179.74 L371.26,180.07 L371.60,180.39 L371.95,180.70 L372.30,181.01 L372.65,181.30 L373.00,181.58 L373.35,181.85 L373.70,182.12 L374.05,182.38 L374.40,182.63 L374.74,182.87 L375.09,183.11 L375.44,183.33 L375.79,183.55 L376.14,183.76 L376.49,183.96 L376.85,184.15 L377.20,184.32 L377.57,184.49 L377.96,184.65 L378.37,184.79 L378.79,184.93 L379.20,185.06 L379.61,185.18 L380.01,185.29 L380.38,185.39 L380.73,185.42 L381.03,185.42 L381.29,185.42 L381.50,185.42" fill="none" stroke="#333" stroke-width="1.15" stroke-linejoin="round"/></g>
<g><text x="74.00" y="246.40" font-size="8.3" class="b" font-weight="bold" text-anchor="middle" textLength="21.8" lengthAdjust="spacingAndGlyphs" fill="#000">90203</text><rect x="31.50" y="258.80" width="85.00" height="44.10" fill="none" stroke="#333" stroke-width="1.2"/><line x1="34.65" y1="302.90" x2="34.65" y2="306.90" stroke="#333" stroke-width="1.2"/><text x="34.65" y="318.20" font-size="6.5" text-anchor="middle" fill="#000">0.0</text><line x1="60.88" y1="302.90" x2="60.88" y2="306.90" stroke="#333" stroke-width="1.2"/><text x="60.88" y="318.20" font-size="6.5" text-anchor="middle" fill="#000">0.5</text><line x1="87.12" y1="302.90" x2="87.12" y2="306.90" stroke="#333" stroke-width="1.2"/><text x="87.12" y="318.20" font-size="6.5" text-anchor="middle" fill="#000">1.0</text><line x1="113.35" y1="302.90" x2="113.35" y2="306.90" stroke="#333" stroke-width="1.2"/><text x="113.35" y="318.20" font-size="6.5" text-anchor="middle" fill="#000">1.5</text><text x="74.00" y="333.60" font-size="6.6" text-anchor="middle" fill="#000">Mutant allele frequency</text><line x1="27.50" y1="301.30" x2="31.50" y2="301.30" stroke="#333" stroke-width="1.2"/><text transform="translate(22.80,301.30) rotate(-90)" font-size="6.5" text-anchor="middle" fill="#000">0.0</text><line x1="27.50" y1="291.35" x2="31.50" y2="291.35" stroke="#333" stroke-width="1.2"/><line x1="27.50" y1="281.40" x2="31.50" y2="281.40" stroke="#333" stroke-width="1.2"/><text transform="translate(22.80,281.40) rotate(-90)" font-size="6.5" text-anchor="middle" fill="#000">1.0</text><line x1="27.50" y1="271.45" x2="31.50" y2="271.45" stroke="#333" stroke-width="1.2"/><line x1="27.50" y1="261.50" x2="31.50" y2="261.50" stroke="#333" stroke-width="1.2"/><text transform="translate(22.80,261.50) rotate(-90)" font-size="6.5" text-anchor="middle" fill="#000">2.0</text><text transform="translate(7.00,280.85) rotate(-90)" font-size="6.6" text-anchor="middle" fill="#000">Density function</text><line x1="85.00" y1="302.90" x2="85.00" y2="258.80" stroke="#222" stroke-width="1" stroke-dasharray="2.7 1.9"/><path d="M31.70,301.27 L31.86,301.27 L32.06,301.27 L32.29,301.27 L32.55,301.27 L32.84,301.27 L33.14,301.27 L33.45,301.27 L33.78,301.27 L34.11,301.27 L34.45,301.19 L34.78,301.10 L35.10,301.00 L35.42,300.90 L35.75,300.78 L36.09,300.66 L36.44,300.52 L36.79,300.38 L37.15,300.24 L37.51,300.08 L37.87,299.92 L38.23,299.76 L38.59,299.59 L38.95,299.42 L39.30,299.24 L39.65,299.05 L40.01,298.84 L40.37,298.62 L40.73,298.39 L41.09,298.16 L41.45,297.92 L41.81,297.69 L42.16,297.46 L42.51,297.24 L42.85,297.04 L43.18,296.85 L43.50,296.69 L43.81,296.54 L44.10,296.41 L44.39,296.30 L44.66,296.19 L44.93,296.10 L45.19,296.02 L45.46,295.94 L45.73,295.86 L46.01,295.78 L46.29,295.69 L46.59,295.60 L46.90,295.51 L47.23,295.41 L47.57,295.30 L47.91,295.20 L48.27,295.10 L48.63,295.00 L49.00,294.90 L49.37,294.80 L49.74,294.69 L50.11,294.58 L50.48,294.47 L50.84,294.35 L51.20,294.23 L51.56,294.11 L51.93,293.98 L52.30,293.84 L52.67,293.70 L53.04,293.56 L53.41,293.42 L53.78,293.28 L54.13,293.13 L54.47,292.99 L54.80,292.84 L55.11,292.70 L55.40,292.56 L55.67,292.43 L55.91,292.32 L56.14,292.22 L56.36,292.13 L56.56,292.04 L56.75,291.94 L56.94,291.82 L57.12,291.70 L57.31,291.54 L57.50,291.36 L57.69,291.15 L57.90,290.89 L58.11,290.61 L58.33,290.30 L58.55,289.97 L58.76,289.62 L58.98,289.25 L59.20,288.86 L59.42,288.43 L59.64,287.98 L59.85,287.51 L60.07,287.00 L60.29,286.46 L60.50,285.89 L60.71,285.27 L60.92,284.61 L61.13,283.91 L61.34,283.18 L61.55,282.41 L61.76,281.63 L61.96,280.82 L62.17,280.01 L62.38,279.19 L62.58,278.37 L62.79,277.56 L63.00,276.75 L63.21,275.94 L63.42,275.10 L63.62,274.23 L63.83,273.34 L64.04,272.45 L64.24,271.56 L64.45,270.69 L64.66,269.84 L64.87,269.02 L65.08,268.24 L65.29,267.51 L65.50,266.84 L65.72,266.22 L65.94,265.63 L66.16,265.07 L66.39,264.54 L66.62,264.04 L66.85,263.58 L67.08,263.15 L67.30,262.74 L67.51,262.37 L67.72,262.03 L67.91,261.72 L68.10,261.44 L68.27,261.19 L68.43,260.99 L68.57,260.83 L68.70,260.70 L68.83,260.60 L68.96,260.52 L69.08,260.48 L69.21,260.45 L69.34,260.43 L69.48,260.43 L69.63,260.44 L69.80,260.46 L69.98,260.48 L70.16,260.52 L70.35,260.57 L70.54,260.64 L70.74,260.72 L70.94,260.83 L71.15,260.94 L71.37,261.08 L71.59,261.24 L71.82,261.42 L72.06,261.61 L72.30,261.83 L72.55,262.07 L72.81,262.34 L73.09,262.63 L73.37,262.94 L73.65,263.27 L73.94,263.62 L74.24,263.98 L74.53,264.36 L74.83,264.74 L75.12,265.14 L75.41,265.54 L75.70,265.96 L75.99,266.38 L76.28,266.82 L76.57,267.28 L76.87,267.76 L77.16,268.25 L77.46,268.74 L77.75,269.24 L78.03,269.75 L78.31,270.25 L78.59,270.76 L78.85,271.26 L79.10,271.75 L79.34,272.24 L79.57,272.73 L79.79,273.22 L80.00,273.72 L80.20,274.22 L80.40,274.72 L80.60,275.21 L80.79,275.71 L80.99,276.20 L81.19,276.68 L81.39,277.16 L81.60,277.64 L81.81,278.11 L82.03,278.60 L82.25,279.08 L82.46,279.57 L82.68,280.05 L82.90,280.53 L83.12,280.99 L83.34,281.45 L83.55,281.88 L83.77,282.29 L83.99,282.68 L84.20,283.04 L84.41,283.36 L84.61,283.64 L84.81,283.88 L85.01,284.10 L85.20,284.30 L85.40,284.49 L85.60,284.68 L85.80,284.87 L86.01,285.08 L86.23,285.32 L86.46,285.58 L86.70,285.89 L86.95,286.22 L87.21,286.59 L87.49,286.97 L87.77,287.37 L88.05,287.78 L88.34,288.20 L88.64,288.64 L88.93,289.09 L89.23,289.53 L89.52,289.99 L89.81,290.44 L90.10,290.89 L90.38,291.36 L90.67,291.85 L90.95,292.36 L91.24,292.89 L91.52,293.41 L91.81,293.94 L92.09,294.46 L92.37,294.97 L92.66,295.45 L92.94,295.90 L93.22,296.31 L93.50,296.69 L93.78,297.02 L94.05,297.33 L94.33,297.62 L94.60,297.89 L94.88,298.14 L95.15,298.36 L95.42,298.56 L95.70,298.74 L95.97,298.90 L96.25,299.03 L96.52,299.15 L96.80,299.24 L97.08,299.30 L97.37,299.33 L97.65,299.32 L97.94,299.29 L98.23,299.24 L98.53,299.17 L98.81,299.09 L99.10,299.00 L99.38,298.90 L99.66,298.81 L99.93,298.72 L100.20,298.65 L100.46,298.57 L100.71,298.47 L100.96,298.36 L101.20,298.24 L101.43,298.12 L101.67,298.00 L101.90,297.89 L102.14,297.79 L102.37,297.70 L102.61,297.63 L102.85,297.58 L103.10,297.57 L103.35,297.58 L103.60,297.62 L103.86,297.67 L104.11,297.75 L104.37,297.84 L104.62,297.94 L104.88,298.05 L105.14,298.16 L105.41,298.29 L105.67,298.41 L105.93,298.53 L106.20,298.65 L106.46,298.77 L106.72,298.90 L106.97,299.03 L107.22,299.17 L107.47,299.32 L107.72,299.46 L107.99,299.61 L108.26,299.76 L108.54,299.91 L108.84,300.05 L109.16,300.19 L109.50,300.32 L109.87,300.45 L110.28,300.58 L110.72,300.71 L111.19,300.84 L111.66,300.97 L112.14,301.09 L112.61,301.21 L113.07,301.27 L113.51,301.27 L113.91,301.27 L114.28,301.27 L114.60,301.27 L114.88,301.27 L115.12,301.27 L115.34,301.27 L115.54,301.27 L115.71,301.27 L115.87,301.27 L116.01,301.27 L116.13,301.27 L116.23,301.27 L116.33,301.27 L116.42,301.27 L116.50,301.27" fill="none" stroke="#333" stroke-width="1.15" stroke-linejoin="round"/></g>
<g><text x="207.00" y="246.40" font-size="8.3" class="b" font-weight="bold" text-anchor="middle" textLength="21.8" lengthAdjust="spacingAndGlyphs" fill="#000">90482</text><rect x="164.50" y="258.80" width="85.00" height="44.10" fill="none" stroke="#333" stroke-width="1.2"/><line x1="167.65" y1="302.90" x2="167.65" y2="306.90" stroke="#333" stroke-width="1.2"/><text x="167.65" y="318.20" font-size="6.5" text-anchor="middle" fill="#000">0.0</text><line x1="193.88" y1="302.90" x2="193.88" y2="306.90" stroke="#333" stroke-width="1.2"/><text x="193.88" y="318.20" font-size="6.5" text-anchor="middle" fill="#000">0.5</text><line x1="220.12" y1="302.90" x2="220.12" y2="306.90" stroke="#333" stroke-width="1.2"/><text x="220.12" y="318.20" font-size="6.5" text-anchor="middle" fill="#000">1.0</text><line x1="246.35" y1="302.90" x2="246.35" y2="306.90" stroke="#333" stroke-width="1.2"/><text x="246.35" y="318.20" font-size="6.5" text-anchor="middle" fill="#000">1.5</text><text x="207.00" y="333.60" font-size="6.6" text-anchor="middle" fill="#000">Mutant allele frequency</text><line x1="160.50" y1="301.40" x2="164.50" y2="301.40" stroke="#333" stroke-width="1.2"/><text transform="translate(155.80,301.40) rotate(-90)" font-size="6.5" text-anchor="middle" fill="#000">0.0</text><line x1="160.50" y1="291.55" x2="164.50" y2="291.55" stroke="#333" stroke-width="1.2"/><line x1="160.50" y1="281.70" x2="164.50" y2="281.70" stroke="#333" stroke-width="1.2"/><text transform="translate(155.80,281.70) rotate(-90)" font-size="6.5" text-anchor="middle" fill="#000">1.0</text><line x1="160.50" y1="271.85" x2="164.50" y2="271.85" stroke="#333" stroke-width="1.2"/><line x1="160.50" y1="262.00" x2="164.50" y2="262.00" stroke="#333" stroke-width="1.2"/><text transform="translate(155.80,262.00) rotate(-90)" font-size="6.5" text-anchor="middle" fill="#000">2.0</text><text transform="translate(140.00,280.85) rotate(-90)" font-size="6.6" text-anchor="middle" fill="#000">Density function</text><line x1="185.30" y1="302.90" x2="185.30" y2="258.80" stroke="#222" stroke-width="1" stroke-dasharray="2.7 1.9"/><path d="M164.70,301.27 L164.95,301.27 L165.26,301.27 L165.62,301.27 L166.03,301.27 L166.47,301.27 L166.94,301.18 L167.42,301.06 L167.92,300.93 L168.41,300.79 L168.90,300.64 L169.36,300.49 L169.80,300.32 L170.22,300.14 L170.64,299.96 L171.05,299.76 L171.47,299.55 L171.89,299.33 L172.30,299.10 L172.71,298.87 L173.13,298.62 L173.55,298.37 L173.96,298.11 L174.38,297.85 L174.80,297.58 L175.22,297.30 L175.64,297.00 L176.07,296.70 L176.49,296.38 L176.92,296.06 L177.34,295.73 L177.77,295.40 L178.20,295.07 L178.62,294.73 L179.05,294.40 L179.47,294.08 L179.90,293.76 L180.33,293.44 L180.77,293.11 L181.21,292.77 L181.66,292.43 L182.11,292.09 L182.56,291.76 L183.00,291.43 L183.43,291.12 L183.84,290.82 L184.25,290.53 L184.63,290.27 L185.00,290.04 L185.34,289.83 L185.67,289.64 L185.97,289.47 L186.26,289.32 L186.54,289.18 L186.81,289.05 L187.07,288.93 L187.33,288.83 L187.59,288.73 L187.85,288.64 L188.12,288.56 L188.40,288.47 L188.68,288.40 L188.97,288.33 L189.25,288.27 L189.53,288.23 L189.82,288.19 L190.10,288.16 L190.38,288.13 L190.67,288.11 L190.95,288.10 L191.23,288.09 L191.52,288.08 L191.80,288.08 L192.08,288.09 L192.37,288.10 L192.65,288.13 L192.94,288.16 L193.22,288.19 L193.51,288.24 L193.79,288.28 L194.07,288.32 L194.36,288.36 L194.64,288.41 L194.92,288.44 L195.20,288.47 L195.48,288.51 L195.76,288.55 L196.05,288.61 L196.33,288.66 L196.62,288.72 L196.90,288.77 L197.18,288.81 L197.46,288.84 L197.73,288.85 L197.99,288.85 L198.25,288.82 L198.50,288.77 L198.74,288.70 L198.98,288.63 L199.20,288.55 L199.42,288.46 L199.64,288.35 L199.85,288.22 L200.06,288.07 L200.27,287.89 L200.47,287.68 L200.68,287.43 L200.89,287.14 L201.10,286.81 L201.31,286.42 L201.52,285.99 L201.73,285.51 L201.94,285.00 L202.14,284.45 L202.35,283.88 L202.56,283.28 L202.76,282.67 L202.97,282.04 L203.18,281.41 L203.39,280.78 L203.60,280.15 L203.81,279.51 L204.02,278.85 L204.23,278.17 L204.44,277.47 L204.66,276.76 L204.87,276.04 L205.08,275.32 L205.30,274.60 L205.52,273.89 L205.74,273.19 L205.97,272.50 L206.20,271.83 L206.44,271.17 L206.68,270.49 L206.93,269.81 L207.19,269.13 L207.44,268.46 L207.70,267.80 L207.96,267.15 L208.21,266.53 L208.47,265.94 L208.72,265.38 L208.96,264.86 L209.20,264.39 L209.43,263.96 L209.67,263.56 L209.90,263.20 L210.13,262.87 L210.36,262.57 L210.59,262.29 L210.81,262.04 L211.02,261.81 L211.23,261.60 L211.43,261.40 L211.62,261.23 L211.80,261.06 L211.97,260.91 L212.11,260.78 L212.25,260.68 L212.37,260.59 L212.49,260.52 L212.60,260.47 L212.71,260.44 L212.83,260.43 L212.95,260.44 L213.09,260.47 L213.23,260.51 L213.40,260.57 L213.58,260.65 L213.78,260.74 L213.98,260.84 L214.20,260.96 L214.42,261.10 L214.64,261.26 L214.87,261.44 L215.10,261.64 L215.33,261.87 L215.56,262.13 L215.78,262.41 L216.00,262.73 L216.21,263.07 L216.42,263.45 L216.63,263.85 L216.84,264.29 L217.05,264.75 L217.26,265.23 L217.47,265.73 L217.68,266.25 L217.88,266.79 L218.09,267.35 L218.30,267.92 L218.50,268.50 L218.70,269.11 L218.91,269.74 L219.11,270.40 L219.31,271.09 L219.52,271.79 L219.72,272.50 L219.92,273.23 L220.12,273.96 L220.32,274.68 L220.51,275.41 L220.71,276.12 L220.90,276.82 L221.09,277.52 L221.26,278.21 L221.44,278.91 L221.60,279.60 L221.77,280.30 L221.94,280.99 L222.11,281.68 L222.29,282.38 L222.47,283.07 L222.67,283.76 L222.88,284.46 L223.10,285.15 L223.34,285.84 L223.60,286.56 L223.87,287.28 L224.15,288.01 L224.44,288.74 L224.73,289.47 L225.03,290.18 L225.33,290.87 L225.63,291.54 L225.93,292.19 L226.22,292.80 L226.50,293.37 L226.78,293.91 L227.04,294.42 L227.31,294.90 L227.57,295.37 L227.83,295.81 L228.09,296.23 L228.36,296.63 L228.63,297.01 L228.91,297.37 L229.19,297.71 L229.49,298.05 L229.80,298.36 L230.12,298.66 L230.45,298.94 L230.79,299.19 L231.13,299.42 L231.48,299.64 L231.84,299.84 L232.20,300.03 L232.57,300.20 L232.95,300.37 L233.33,300.52 L233.71,300.67 L234.10,300.81 L234.51,300.94 L234.96,301.06 L235.44,301.16 L235.93,301.25 L236.43,301.27 L236.92,301.27 L237.40,301.27 L237.85,301.27 L238.26,301.27 L238.64,301.27 L238.95,301.27 L239.20,301.27" fill="none" stroke="#333" stroke-width="1.15" stroke-linejoin="round"/></g>
<g><text x="340.00" y="246.40" font-size="8.3" class="b" font-weight="bold" text-anchor="middle" textLength="21.8" lengthAdjust="spacingAndGlyphs" fill="#000">90983</text><rect x="297.50" y="258.80" width="85.00" height="44.10" fill="none" stroke="#333" stroke-width="1.2"/><line x1="300.65" y1="302.90" x2="300.65" y2="306.90" stroke="#333" stroke-width="1.2"/><text x="300.65" y="318.20" font-size="6.5" text-anchor="middle" fill="#000">0.0</text><line x1="326.88" y1="302.90" x2="326.88" y2="306.90" stroke="#333" stroke-width="1.2"/><text x="326.88" y="318.20" font-size="6.5" text-anchor="middle" fill="#000">0.5</text><line x1="353.12" y1="302.90" x2="353.12" y2="306.90" stroke="#333" stroke-width="1.2"/><text x="353.12" y="318.20" font-size="6.5" text-anchor="middle" fill="#000">1.0</text><line x1="379.35" y1="302.90" x2="379.35" y2="306.90" stroke="#333" stroke-width="1.2"/><text x="379.35" y="318.20" font-size="6.5" text-anchor="middle" fill="#000">1.5</text><text x="340.00" y="333.60" font-size="6.6" text-anchor="middle" fill="#000">Mutant allele frequency</text><line x1="293.50" y1="301.50" x2="297.50" y2="301.50" stroke="#333" stroke-width="1.2"/><text transform="translate(288.80,301.50) rotate(-90)" font-size="6.5" text-anchor="middle" fill="#000">0.0</text><line x1="293.50" y1="288.40" x2="297.50" y2="288.40" stroke="#333" stroke-width="1.2"/><line x1="293.50" y1="275.30" x2="297.50" y2="275.30" stroke="#333" stroke-width="1.2"/><text transform="translate(288.80,275.30) rotate(-90)" font-size="6.5" text-anchor="middle" fill="#000">1.0</text><line x1="293.50" y1="262.20" x2="297.50" y2="262.20" stroke="#333" stroke-width="1.2"/><text transform="translate(273.00,280.85) rotate(-90)" font-size="6.6" text-anchor="middle" fill="#000">Density function</text><line x1="349.50" y1="302.90" x2="349.50" y2="258.80" stroke="#222" stroke-width="1" stroke-dasharray="2.7 1.9"/><path d="M297.40,300.32 L297.58,300.19 L297.80,300.03 L298.05,299.85 L298.34,299.64 L298.65,299.41 L298.99,299.17 L299.34,298.91 L299.69,298.65 L300.05,298.38 L300.41,298.12 L300.76,297.85 L301.10,297.60 L301.43,297.34 L301.77,297.09 L302.11,296.83 L302.46,296.57 L302.81,296.30 L303.17,296.03 L303.52,295.76 L303.88,295.47 L304.24,295.19 L304.59,294.89 L304.95,294.59 L305.30,294.28 L305.65,293.96 L306.00,293.62 L306.35,293.26 L306.70,292.90 L307.04,292.53 L307.39,292.15 L307.74,291.78 L308.09,291.41 L308.44,291.06 L308.79,290.72 L309.15,290.39 L309.50,290.09 L309.86,289.81 L310.21,289.54 L310.57,289.28 L310.93,289.03 L311.29,288.78 L311.65,288.55 L312.01,288.33 L312.37,288.12 L312.73,287.92 L313.09,287.72 L313.44,287.54 L313.80,287.37 L314.15,287.20 L314.51,287.04 L314.86,286.89 L315.21,286.74 L315.56,286.61 L315.91,286.48 L316.26,286.37 L316.60,286.27 L316.95,286.18 L317.30,286.11 L317.65,286.05 L318.00,286.00 L318.35,285.98 L318.70,285.97 L319.05,285.98 L319.40,286.00 L319.74,286.04 L320.09,286.09 L320.44,286.14 L320.79,286.21 L321.14,286.28 L321.49,286.35 L321.85,286.42 L322.20,286.49 L322.56,286.56 L322.92,286.65 L323.29,286.74 L323.66,286.84 L324.04,286.94 L324.41,287.05 L324.77,287.16 L325.14,287.26 L325.49,287.37 L325.84,287.47 L326.18,287.57 L326.50,287.66 L326.81,287.75 L327.11,287.85 L327.39,287.95 L327.67,288.06 L327.94,288.16 L328.21,288.25 L328.47,288.34 L328.73,288.42 L328.99,288.48 L329.26,288.52 L329.52,288.54 L329.80,288.54 L330.08,288.51 L330.36,288.48 L330.64,288.44 L330.93,288.39 L331.21,288.32 L331.49,288.24 L331.78,288.13 L332.06,288.00 L332.35,287.84 L332.63,287.65 L332.92,287.43 L333.20,287.17 L333.48,286.88 L333.77,286.55 L334.05,286.20 L334.33,285.82 L334.62,285.41 L334.90,284.97 L335.18,284.51 L335.47,284.03 L335.75,283.53 L336.03,283.01 L336.32,282.47 L336.60,281.91 L336.88,281.32 L337.17,280.69 L337.45,280.03 L337.73,279.34 L338.02,278.63 L338.30,277.90 L338.58,277.17 L338.87,276.44 L339.15,275.71 L339.43,274.99 L339.72,274.30 L340.00,273.63 L340.28,272.97 L340.57,272.31 L340.85,271.65 L341.13,270.99 L341.42,270.33 L341.70,269.69 L341.98,269.06 L342.27,268.44 L342.55,267.85 L342.83,267.28 L343.12,266.73 L343.40,266.22 L343.69,265.74 L343.98,265.27 L344.27,264.82 L344.57,264.39 L344.86,263.98 L345.16,263.60 L345.45,263.23 L345.73,262.89 L346.01,262.57 L346.29,262.27 L346.55,261.99 L346.80,261.74 L347.04,261.51 L347.27,261.30 L347.49,261.11 L347.70,260.94 L347.91,260.80 L348.11,260.67 L348.30,260.58 L348.50,260.50 L348.70,260.45 L348.89,260.43 L349.09,260.44 L349.30,260.47 L349.51,260.53 L349.71,260.62 L349.90,260.72 L350.10,260.86 L350.30,261.01 L350.49,261.20 L350.69,261.41 L350.90,261.65 L351.11,261.92 L351.33,262.22 L351.56,262.55 L351.80,262.91 L352.05,263.31 L352.31,263.74 L352.59,264.21 L352.87,264.72 L353.15,265.25 L353.44,265.81 L353.74,266.39 L354.03,266.99 L354.33,267.61 L354.62,268.24 L354.91,268.88 L355.20,269.54 L355.48,270.21 L355.77,270.91 L356.05,271.65 L356.33,272.40 L356.62,273.18 L356.90,273.96 L357.18,274.75 L357.47,275.54 L357.75,276.33 L358.03,277.10 L358.32,277.86 L358.60,278.60 L358.88,279.32 L359.17,280.04 L359.45,280.76 L359.73,281.48 L360.02,282.19 L360.30,282.90 L360.58,283.59 L360.87,284.28 L361.15,284.95 L361.43,285.61 L361.72,286.25 L362.00,286.88 L362.28,287.49 L362.57,288.09 L362.85,288.68 L363.13,289.25 L363.42,289.82 L363.70,290.37 L363.98,290.91 L364.27,291.43 L364.55,291.95 L364.83,292.45 L365.12,292.93 L365.40,293.41 L365.68,293.87 L365.96,294.32 L366.23,294.76 L366.50,295.19 L366.78,295.60 L367.05,296.00 L367.33,296.39 L367.61,296.76 L367.89,297.12 L368.19,297.46 L368.49,297.78 L368.80,298.08 L369.12,298.37 L369.45,298.64 L369.79,298.89 L370.14,299.12 L370.49,299.34 L370.85,299.54 L371.21,299.73 L371.57,299.91 L371.93,300.07 L372.29,300.23 L372.65,300.38 L373.00,300.52 L373.35,300.65 L373.70,300.76 L374.05,300.86 L374.40,300.95 L374.74,301.03 L375.09,301.09 L375.44,301.15 L375.79,301.21 L376.14,301.25 L376.49,301.27 L376.85,301.27 L377.20,301.27 L377.57,301.27 L377.96,301.27 L378.37,301.27 L378.79,301.27 L379.20,301.27 L379.61,301.27 L380.01,301.27 L380.38,301.27 L380.73,301.27 L381.03,301.27 L381.29,301.27 L381.50,301.27" fill="none" stroke="#333" stroke-width="1.15" stroke-linejoin="round"/></g>
<g><text x="473.00" y="246.40" font-size="8.3" class="b" font-weight="bold" text-anchor="middle" textLength="21.8" lengthAdjust="spacingAndGlyphs" fill="#000">91890</text><rect x="430.50" y="258.80" width="85.00" height="44.10" fill="none" stroke="#333" stroke-width="1.2"/><line x1="433.65" y1="302.90" x2="433.65" y2="306.90" stroke="#333" stroke-width="1.2"/><text x="433.65" y="318.20" font-size="6.5" text-anchor="middle" fill="#000">0.0</text><line x1="459.88" y1="302.90" x2="459.88" y2="306.90" stroke="#333" stroke-width="1.2"/><text x="459.88" y="318.20" font-size="6.5" text-anchor="middle" fill="#000">0.5</text><line x1="486.12" y1="302.90" x2="486.12" y2="306.90" stroke="#333" stroke-width="1.2"/><text x="486.12" y="318.20" font-size="6.5" text-anchor="middle" fill="#000">1.0</text><line x1="512.35" y1="302.90" x2="512.35" y2="306.90" stroke="#333" stroke-width="1.2"/><text x="512.35" y="318.20" font-size="6.5" text-anchor="middle" fill="#000">1.5</text><text x="473.00" y="333.60" font-size="6.6" text-anchor="middle" fill="#000">Mutant allele frequency</text><line x1="426.50" y1="301.40" x2="430.50" y2="301.40" stroke="#333" stroke-width="1.2"/><text transform="translate(421.80,301.40) rotate(-90)" font-size="6.5" text-anchor="middle" fill="#000">0</text><line x1="426.50" y1="291.78" x2="430.50" y2="291.78" stroke="#333" stroke-width="1.2"/><text transform="translate(421.80,291.78) rotate(-90)" font-size="6.5" text-anchor="middle" fill="#000">1</text><line x1="426.50" y1="282.16" x2="430.50" y2="282.16" stroke="#333" stroke-width="1.2"/><text transform="translate(421.80,282.16) rotate(-90)" font-size="6.5" text-anchor="middle" fill="#000">2</text><line x1="426.50" y1="272.54" x2="430.50" y2="272.54" stroke="#333" stroke-width="1.2"/><text transform="translate(421.80,272.54) rotate(-90)" font-size="6.5" text-anchor="middle" fill="#000">3</text><line x1="426.50" y1="262.92" x2="430.50" y2="262.92" stroke="#333" stroke-width="1.2"/><text transform="translate(421.80,262.92) rotate(-90)" font-size="6.5" text-anchor="middle" fill="#000">4</text><text transform="translate(406.00,280.85) rotate(-90)" font-size="6.6" text-anchor="middle" fill="#000">Density function</text><line x1="451.40" y1="302.90" x2="451.40" y2="258.80" stroke="#222" stroke-width="1" stroke-dasharray="2.7 1.9"/><path d="M437.60,301.27 L437.73,301.27 L437.90,301.27 L438.10,301.27 L438.31,301.24 L438.55,301.12 L438.81,300.99 L439.07,300.85 L439.34,300.72 L439.61,300.58 L439.88,300.45 L440.15,300.32 L440.40,300.20 L440.65,300.08 L440.91,299.94 L441.17,299.80 L441.43,299.65 L441.70,299.50 L441.97,299.35 L442.24,299.22 L442.50,299.09 L442.76,298.98 L443.01,298.90 L443.26,298.84 L443.50,298.80 L443.73,298.80 L443.95,298.83 L444.17,298.89 L444.39,298.96 L444.60,299.05 L444.81,299.16 L445.01,299.27 L445.21,299.39 L445.41,299.50 L445.61,299.61 L445.80,299.71 L446.00,299.80 L446.19,299.89 L446.39,299.98 L446.57,300.09 L446.76,300.19 L446.94,300.30 L447.12,300.40 L447.31,300.49 L447.49,300.58 L447.66,300.64 L447.84,300.69 L448.02,300.71 L448.20,300.70 L448.38,300.66 L448.56,300.59 L448.75,300.49 L448.93,300.37 L449.12,300.24 L449.30,300.09 L449.48,299.94 L449.66,299.79 L449.83,299.64 L449.99,299.51 L450.15,299.40 L450.30,299.30 L450.44,299.22 L450.57,299.15 L450.68,299.07 L450.79,299.00 L450.90,298.93 L451.00,298.88 L451.10,298.83 L451.21,298.80 L451.32,298.77 L451.43,298.77 L451.56,298.78 L451.70,298.80 L451.85,298.85 L452.00,298.93 L452.16,299.03 L452.32,299.14 L452.49,299.27 L452.66,299.41 L452.84,299.55 L453.02,299.69 L453.21,299.84 L453.40,299.97 L453.60,300.09 L453.80,300.20 L454.01,300.30 L454.22,300.40 L454.43,300.50 L454.66,300.60 L454.88,300.69 L455.11,300.78 L455.35,300.87 L455.59,300.95 L455.83,301.02 L456.08,301.09 L456.34,301.15 L456.60,301.20 L456.87,301.24 L457.14,301.27 L457.43,301.27 L457.71,301.27 L458.01,301.27 L458.31,301.27 L458.61,301.27 L458.91,301.27 L459.21,301.27 L459.51,301.27 L459.81,301.27 L460.10,301.27 L460.40,301.27 L460.70,301.27 L461.01,301.27 L461.32,301.27 L461.63,301.25 L461.94,301.24 L462.24,301.21 L462.54,301.18 L462.82,301.13 L463.10,301.07 L463.36,300.99 L463.60,300.90 L463.82,300.79 L464.02,300.68 L464.21,300.56 L464.38,300.43 L464.54,300.29 L464.69,300.13 L464.85,299.96 L465.00,299.77 L465.16,299.56 L465.33,299.33 L465.50,299.08 L465.70,298.80 L465.91,298.49 L466.12,298.15 L466.33,297.78 L466.56,297.38 L466.78,296.96 L467.01,296.53 L467.25,296.09 L467.49,295.65 L467.73,295.20 L467.98,294.76 L468.24,294.33 L468.50,293.91 L468.77,293.50 L469.05,293.10 L469.34,292.69 L469.64,292.28 L469.94,291.87 L470.25,291.46 L470.56,291.06 L470.86,290.65 L471.16,290.24 L471.45,289.83 L471.73,289.43 L472.00,289.02 L472.26,288.61 L472.52,288.20 L472.77,287.79 L473.01,287.39 L473.25,286.98 L473.49,286.57 L473.72,286.16 L473.94,285.76 L474.17,285.35 L474.38,284.94 L474.59,284.53 L474.80,284.12 L475.00,283.72 L475.20,283.33 L475.38,282.93 L475.57,282.55 L475.74,282.16 L475.92,281.77 L476.09,281.37 L476.26,280.97 L476.42,280.55 L476.58,280.13 L476.74,279.69 L476.90,279.23 L477.06,278.76 L477.21,278.28 L477.36,277.79 L477.51,277.29 L477.65,276.79 L477.79,276.27 L477.93,275.74 L478.07,275.20 L478.21,274.65 L478.34,274.09 L478.47,273.52 L478.60,272.94 L478.73,272.33 L478.85,271.69 L478.98,271.01 L479.10,270.32 L479.21,269.62 L479.33,268.91 L479.45,268.22 L479.56,267.54 L479.67,266.88 L479.78,266.26 L479.89,265.68 L480.00,265.15 L480.11,264.66 L480.22,264.20 L480.32,263.75 L480.43,263.33 L480.53,262.94 L480.64,262.57 L480.74,262.23 L480.84,261.91 L480.93,261.63 L481.03,261.37 L481.11,261.15 L481.20,260.96 L481.28,260.80 L481.35,260.67 L481.42,260.56 L481.49,260.49 L481.55,260.45 L481.61,260.43 L481.67,260.45 L481.73,260.49 L481.80,260.56 L481.86,260.67 L481.93,260.80 L482.00,260.96 L482.08,261.14 L482.15,261.36 L482.23,261.59 L482.31,261.86 L482.39,262.15 L482.48,262.48 L482.56,262.84 L482.64,263.23 L482.73,263.65 L482.82,264.12 L482.91,264.61 L483.00,265.15 L483.09,265.73 L483.18,266.35 L483.27,267.02 L483.36,267.72 L483.45,268.45 L483.54,269.22 L483.64,270.02 L483.74,270.84 L483.85,271.69 L483.96,272.55 L484.07,273.44 L484.20,274.34 L484.33,275.29 L484.47,276.32 L484.62,277.41 L484.77,278.54 L484.93,279.69 L485.09,280.85 L485.26,282.00 L485.43,283.12 L485.59,284.19 L485.76,285.19 L485.93,286.11 L486.10,286.92 L486.27,287.63 L486.43,288.27 L486.59,288.83 L486.76,289.33 L486.93,289.78 L487.09,290.20 L487.27,290.59 L487.44,290.96 L487.62,291.33 L487.81,291.70 L488.00,292.09 L488.20,292.51 L488.41,292.96 L488.63,293.41 L488.85,293.87 L489.08,294.32 L489.32,294.78 L489.56,295.22 L489.80,295.65 L490.04,296.06 L490.28,296.44 L490.53,296.80 L490.76,297.12 L491.00,297.41 L491.23,297.65 L491.47,297.85 L491.70,298.01 L491.93,298.15 L492.17,298.26 L492.40,298.35 L492.63,298.43 L492.87,298.50 L493.10,298.56 L493.33,298.63 L493.57,298.71 L493.80,298.80 L494.03,298.90 L494.25,298.98 L494.47,299.06 L494.68,299.14 L494.90,299.21 L495.11,299.28 L495.33,299.35 L495.56,299.42 L495.80,299.51 L496.05,299.59 L496.32,299.69 L496.60,299.80 L496.91,299.93 L497.27,300.08 L497.65,300.24 L498.05,300.41 L498.46,300.59 L498.88,300.76 L499.28,300.94 L499.66,301.10 L500.01,301.26 L500.33,301.27 L500.59,301.27 L500.80,301.27" fill="none" stroke="#333" stroke-width="1.15" stroke-linejoin="round"/></g>
<g><text x="74.00" y="362.00" font-size="8.3" class="b" font-weight="bold" text-anchor="middle" textLength="21.8" lengthAdjust="spacingAndGlyphs" fill="#000">90405</text><rect x="31.50" y="374.40" width="85.00" height="44.10" fill="none" stroke="#333" stroke-width="1.2"/><line x1="34.65" y1="418.50" x2="34.65" y2="422.50" stroke="#333" stroke-width="1.2"/><text x="34.65" y="433.80" font-size="6.5" text-anchor="middle" fill="#000">0.0</text><line x1="60.88" y1="418.50" x2="60.88" y2="422.50" stroke="#333" stroke-width="1.2"/><text x="60.88" y="433.80" font-size="6.5" text-anchor="middle" fill="#000">0.5</text><line x1="87.12" y1="418.50" x2="87.12" y2="422.50" stroke="#333" stroke-width="1.2"/><text x="87.12" y="433.80" font-size="6.5" text-anchor="middle" fill="#000">1.0</text><line x1="113.35" y1="418.50" x2="113.35" y2="422.50" stroke="#333" stroke-width="1.2"/><text x="113.35" y="433.80" font-size="6.5" text-anchor="middle" fill="#000">1.5</text><text x="74.00" y="449.20" font-size="6.6" text-anchor="middle" fill="#000">Mutant allele frequency</text><line x1="27.50" y1="416.90" x2="31.50" y2="416.90" stroke="#333" stroke-width="1.2"/><text transform="translate(22.80,416.90) rotate(-90)" font-size="6.5" text-anchor="middle" fill="#000">0.0</text><line x1="27.50" y1="403.80" x2="31.50" y2="403.80" stroke="#333" stroke-width="1.2"/><line x1="27.50" y1="390.70" x2="31.50" y2="390.70" stroke="#333" stroke-width="1.2"/><text transform="translate(22.80,390.70) rotate(-90)" font-size="6.5" text-anchor="middle" fill="#000">1.0</text><line x1="27.50" y1="377.60" x2="31.50" y2="377.60" stroke="#333" stroke-width="1.2"/><text transform="translate(7.00,396.45) rotate(-90)" font-size="6.6" text-anchor="middle" fill="#000">Density function</text><line x1="53.40" y1="418.50" x2="53.40" y2="374.40" stroke="#222" stroke-width="1" stroke-dasharray="2.7 1.9"/><path d="M31.40,415.81 L31.58,415.69 L31.80,415.55 L32.05,415.40 L32.34,415.23 L32.65,415.04 L32.99,414.83 L33.34,414.60 L33.69,414.34 L34.05,414.06 L34.41,413.75 L34.76,413.41 L35.10,413.05 L35.43,412.65 L35.77,412.23 L36.11,411.78 L36.46,411.31 L36.81,410.81 L37.17,410.29 L37.52,409.74 L37.88,409.16 L38.24,408.57 L38.59,407.94 L38.95,407.30 L39.30,406.62 L39.65,405.91 L40.01,405.16 L40.37,404.36 L40.73,403.53 L41.09,402.68 L41.45,401.81 L41.81,400.93 L42.16,400.05 L42.51,399.17 L42.85,398.30 L43.18,397.46 L43.50,396.65 L43.81,395.85 L44.11,395.05 L44.41,394.25 L44.69,393.46 L44.97,392.68 L45.25,391.90 L45.52,391.13 L45.80,390.37 L46.07,389.62 L46.34,388.88 L46.62,388.16 L46.90,387.46 L47.19,386.76 L47.48,386.06 L47.77,385.36 L48.07,384.68 L48.36,384.00 L48.66,383.34 L48.95,382.70 L49.23,382.08 L49.51,381.49 L49.79,380.94 L50.05,380.42 L50.30,379.95 L50.54,379.51 L50.77,379.11 L51.00,378.75 L51.21,378.41 L51.42,378.10 L51.62,377.82 L51.83,377.57 L52.02,377.34 L52.22,377.12 L52.41,376.93 L52.61,376.75 L52.80,376.59 L52.99,376.44 L53.18,376.32 L53.35,376.22 L53.53,376.15 L53.70,376.09 L53.88,376.05 L54.05,376.03 L54.23,376.03 L54.41,376.05 L54.60,376.08 L54.79,376.13 L55.00,376.19 L55.22,376.27 L55.44,376.37 L55.66,376.49 L55.90,376.63 L56.13,376.78 L56.38,376.95 L56.62,377.13 L56.87,377.33 L57.12,377.55 L57.38,377.77 L57.64,378.02 L57.90,378.27 L58.17,378.54 L58.44,378.84 L58.71,379.16 L59.00,379.50 L59.28,379.85 L59.57,380.21 L59.86,380.58 L60.15,380.96 L60.44,381.33 L60.73,381.70 L61.02,382.07 L61.30,382.42 L61.58,382.77 L61.86,383.13 L62.13,383.49 L62.40,383.86 L62.68,384.23 L62.95,384.59 L63.23,384.95 L63.51,385.30 L63.79,385.64 L64.09,385.97 L64.39,386.28 L64.70,386.57 L65.02,386.84 L65.35,387.09 L65.69,387.33 L66.04,387.56 L66.39,387.77 L66.74,387.98 L67.10,388.17 L67.46,388.37 L67.82,388.56 L68.18,388.75 L68.54,388.94 L68.90,389.14 L69.26,389.33 L69.62,389.51 L69.99,389.67 L70.36,389.84 L70.74,390.00 L71.11,390.16 L71.47,390.32 L71.84,390.49 L72.19,390.67 L72.54,390.87 L72.88,391.08 L73.20,391.31 L73.51,391.56 L73.81,391.82 L74.09,392.09 L74.37,392.37 L74.64,392.66 L74.91,392.96 L75.17,393.27 L75.43,393.59 L75.69,393.92 L75.96,394.26 L76.22,394.61 L76.50,394.97 L76.78,395.33 L77.05,395.71 L77.32,396.09 L77.59,396.48 L77.86,396.89 L78.14,397.30 L78.41,397.72 L78.70,398.16 L78.98,398.60 L79.28,399.06 L79.58,399.53 L79.90,400.00 L80.23,400.51 L80.57,401.04 L80.91,401.60 L81.27,402.18 L81.63,402.77 L82.00,403.36 L82.37,403.95 L82.74,404.54 L83.11,405.10 L83.48,405.64 L83.84,406.15 L84.20,406.62 L84.55,407.07 L84.91,407.50 L85.26,407.91 L85.61,408.31 L85.96,408.69 L86.31,409.06 L86.66,409.40 L87.00,409.73 L87.35,410.05 L87.70,410.34 L88.05,410.62 L88.40,410.87 L88.75,411.11 L89.09,411.32 L89.43,411.50 L89.77,411.67 L90.10,411.81 L90.44,411.95 L90.79,412.07 L91.13,412.18 L91.49,412.28 L91.85,412.37 L92.22,412.46 L92.60,412.55 L92.99,412.64 L93.40,412.71 L93.81,412.76 L94.23,412.81 L94.66,412.85 L95.09,412.89 L95.53,412.91 L95.97,412.94 L96.40,412.96 L96.84,412.99 L97.27,413.02 L97.70,413.05 L98.13,413.07 L98.55,413.09 L98.98,413.11 L99.40,413.12 L99.83,413.13 L100.26,413.14 L100.68,413.15 L101.11,413.17 L101.53,413.20 L101.96,413.23 L102.38,413.28 L102.80,413.34 L103.22,413.42 L103.64,413.51 L104.05,413.61 L104.47,413.71 L104.89,413.83 L105.30,413.95 L105.71,414.07 L106.13,414.20 L106.55,414.33 L106.96,414.47 L107.38,414.60 L107.80,414.73 L108.23,414.86 L108.66,415.00 L109.10,415.15 L109.55,415.30 L109.99,415.46 L110.44,415.62 L110.88,415.77 L111.31,415.92 L111.73,416.06 L112.14,416.19 L112.53,416.30 L112.90,416.41 L113.26,416.49 L113.63,416.57 L113.99,416.64 L114.34,416.71 L114.69,416.76 L115.02,416.81 L115.33,416.85 L115.62,416.87 L115.89,416.87 L116.13,416.87 L116.33,416.87 L116.50,416.87" fill="none" stroke="#333" stroke-width="1.15" stroke-linejoin="round"/></g>
<g><text x="207.00" y="362.00" font-size="8.3" class="b" font-weight="bold" text-anchor="middle" textLength="21.8" lengthAdjust="spacingAndGlyphs" fill="#000">90468</text><rect x="164.50" y="374.40" width="85.00" height="44.10" fill="none" stroke="#333" stroke-width="1.2"/><line x1="167.65" y1="418.50" x2="167.65" y2="422.50" stroke="#333" stroke-width="1.2"/><text x="167.65" y="433.80" font-size="6.5" text-anchor="middle" fill="#000">0.0</text><line x1="193.88" y1="418.50" x2="193.88" y2="422.50" stroke="#333" stroke-width="1.2"/><text x="193.88" y="433.80" font-size="6.5" text-anchor="middle" fill="#000">0.5</text><line x1="220.12" y1="418.50" x2="220.12" y2="422.50" stroke="#333" stroke-width="1.2"/><text x="220.12" y="433.80" font-size="6.5" text-anchor="middle" fill="#000">1.0</text><line x1="246.35" y1="418.50" x2="246.35" y2="422.50" stroke="#333" stroke-width="1.2"/><text x="246.35" y="433.80" font-size="6.5" text-anchor="middle" fill="#000">1.5</text><text x="207.00" y="449.20" font-size="6.6" text-anchor="middle" fill="#000">Mutant allele frequency</text><line x1="160.50" y1="417.10" x2="164.50" y2="417.10" stroke="#333" stroke-width="1.2"/><text transform="translate(155.80,417.10) rotate(-90)" font-size="6.5" text-anchor="middle" fill="#000">0.0</text><line x1="160.50" y1="408.22" x2="164.50" y2="408.22" stroke="#333" stroke-width="1.2"/><line x1="160.50" y1="399.34" x2="164.50" y2="399.34" stroke="#333" stroke-width="1.2"/><text transform="translate(155.80,399.34) rotate(-90)" font-size="6.5" text-anchor="middle" fill="#000">1.0</text><line x1="160.50" y1="390.46" x2="164.50" y2="390.46" stroke="#333" stroke-width="1.2"/><line x1="160.50" y1="381.58" x2="164.50" y2="381.58" stroke="#333" stroke-width="1.2"/><text transform="translate(155.80,381.58) rotate(-90)" font-size="6.5" text-anchor="middle" fill="#000">2.0</text><text transform="translate(140.00,396.45) rotate(-90)" font-size="6.6" text-anchor="middle" fill="#000">Density function</text><line x1="215.70" y1="418.50" x2="215.70" y2="374.40" stroke="#222" stroke-width="1" stroke-dasharray="2.7 1.9"/><path d="M168.10,416.70 L168.30,416.66 L168.56,416.61 L168.85,416.55 L169.19,416.48 L169.55,416.41 L169.94,416.33 L170.34,416.25 L170.74,416.16 L171.15,416.08 L171.55,415.99 L171.94,415.91 L172.30,415.82 L172.65,415.74 L173.01,415.64 L173.37,415.54 L173.73,415.44 L174.09,415.34 L174.45,415.23 L174.81,415.13 L175.16,415.03 L175.51,414.95 L175.85,414.87 L176.18,414.80 L176.50,414.75 L176.81,414.71 L177.11,414.68 L177.41,414.67 L177.69,414.66 L177.97,414.66 L178.25,414.66 L178.52,414.67 L178.80,414.69 L179.07,414.70 L179.34,414.72 L179.62,414.73 L179.90,414.75 L180.18,414.77 L180.47,414.80 L180.75,414.84 L181.03,414.89 L181.32,414.93 L181.60,414.98 L181.88,415.02 L182.17,415.06 L182.45,415.08 L182.73,415.09 L183.02,415.07 L183.30,415.04 L183.58,414.98 L183.87,414.91 L184.15,414.81 L184.43,414.70 L184.72,414.57 L185.00,414.44 L185.28,414.31 L185.57,414.17 L185.85,414.03 L186.13,413.90 L186.42,413.78 L186.70,413.67 L186.98,413.57 L187.26,413.48 L187.53,413.40 L187.80,413.31 L188.08,413.23 L188.35,413.15 L188.63,413.07 L188.91,412.99 L189.19,412.90 L189.49,412.81 L189.79,412.71 L190.10,412.60 L190.42,412.48 L190.76,412.37 L191.11,412.25 L191.47,412.13 L191.83,412.01 L192.20,411.88 L192.57,411.74 L192.93,411.60 L193.29,411.45 L193.64,411.29 L193.98,411.12 L194.30,410.94 L194.61,410.75 L194.91,410.56 L195.21,410.37 L195.49,410.17 L195.77,409.97 L196.05,409.76 L196.32,409.53 L196.60,409.28 L196.87,409.02 L197.14,408.74 L197.42,408.43 L197.70,408.10 L197.98,407.74 L198.27,407.35 L198.55,406.94 L198.83,406.51 L199.12,406.07 L199.40,405.60 L199.68,405.12 L199.97,404.63 L200.25,404.14 L200.53,403.64 L200.82,403.13 L201.10,402.62 L201.38,402.11 L201.67,401.59 L201.95,401.06 L202.24,400.52 L202.52,399.98 L202.81,399.42 L203.09,398.86 L203.37,398.29 L203.66,397.72 L203.94,397.14 L204.22,396.56 L204.50,395.98 L204.78,395.38 L205.05,394.78 L205.33,394.17 L205.60,393.56 L205.88,392.94 L206.15,392.31 L206.42,391.68 L206.70,391.05 L206.97,390.42 L207.25,389.79 L207.52,389.17 L207.80,388.55 L208.08,387.92 L208.37,387.27 L208.66,386.61 L208.96,385.95 L209.25,385.28 L209.54,384.62 L209.83,383.98 L210.12,383.35 L210.40,382.74 L210.68,382.16 L210.94,381.62 L211.20,381.12 L211.45,380.65 L211.69,380.20 L211.93,379.78 L212.16,379.38 L212.39,379.01 L212.61,378.65 L212.82,378.32 L213.03,378.02 L213.23,377.73 L213.43,377.47 L213.62,377.23 L213.80,377.01 L213.97,376.81 L214.13,376.64 L214.27,376.48 L214.40,376.35 L214.53,376.24 L214.66,376.15 L214.78,376.09 L214.91,376.05 L215.04,376.03 L215.18,376.04 L215.33,376.07 L215.50,376.13 L215.68,376.20 L215.86,376.29 L216.05,376.39 L216.24,376.51 L216.44,376.66 L216.64,376.83 L216.85,377.04 L217.07,377.28 L217.29,377.56 L217.52,377.88 L217.76,378.25 L218.00,378.67 L218.25,379.15 L218.51,379.69 L218.79,380.28 L219.07,380.92 L219.35,381.60 L219.64,382.31 L219.94,383.05 L220.23,383.81 L220.53,384.57 L220.82,385.35 L221.11,386.12 L221.40,386.88 L221.68,387.65 L221.97,388.45 L222.25,389.26 L222.53,390.08 L222.82,390.92 L223.10,391.77 L223.38,392.62 L223.67,393.47 L223.95,394.33 L224.23,395.18 L224.52,396.02 L224.80,396.86 L225.08,397.69 L225.37,398.55 L225.65,399.41 L225.94,400.27 L226.22,401.14 L226.51,402.00 L226.79,402.85 L227.07,403.68 L227.36,404.49 L227.64,405.27 L227.92,406.02 L228.20,406.73 L228.48,407.41 L228.75,408.07 L229.03,408.72 L229.30,409.34 L229.58,409.94 L229.85,410.52 L230.12,411.07 L230.40,411.59 L230.67,412.09 L230.95,412.55 L231.22,412.98 L231.50,413.38 L231.78,413.74 L232.06,414.05 L232.34,414.32 L232.62,414.56 L232.90,414.78 L233.19,414.96 L233.47,415.13 L233.76,415.28 L234.04,415.42 L234.33,415.56 L234.61,415.69 L234.90,415.82 L235.20,415.95 L235.52,416.07 L235.85,416.17 L236.19,416.27 L236.53,416.35 L236.86,416.42 L237.18,416.48 L237.49,416.53 L237.77,416.58 L238.02,416.63 L238.23,416.67 L238.40,416.70" fill="none" stroke="#333" stroke-width="1.15" stroke-linejoin="round"/></g>
</g></svg></body></html>
